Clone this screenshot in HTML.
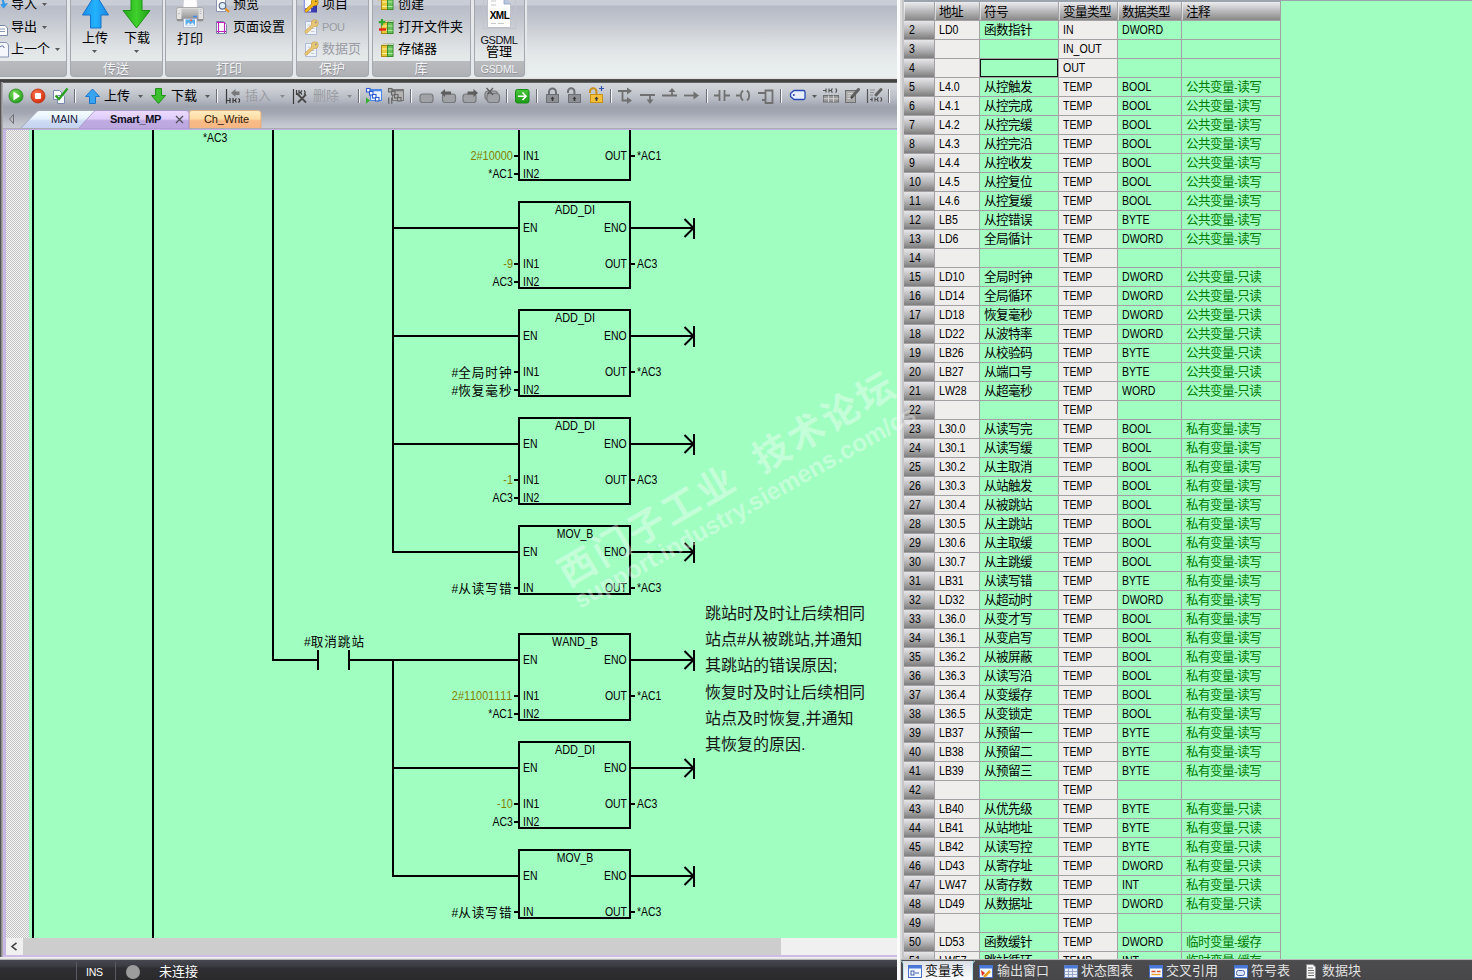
<!DOCTYPE html>
<html><head><meta charset="utf-8"><title>STEP 7-Micro/WIN SMART</title>
<style>
html,body{margin:0;padding:0}
body{width:1472px;height:980px;overflow:hidden;position:relative;background:#a0fec1;font-family:"Liberation Sans","Noto Sans CJK SC",sans-serif;font-size:11px;color:#000}
div{position:absolute;box-sizing:border-box}
.t{white-space:nowrap;font-kerning:none}
span.z{font-size:var(--c,1em);letter-spacing:0}
svg.a{position:absolute;overflow:visible}
.cm{font-size:16px;line-height:20px;color:#141414;--c:16px}
.cm .h{display:inline-block;width:8px;text-align:center}
.wm{white-space:nowrap;color:rgba(255,255,255,.38);transform-origin:0 100%;line-height:1;margin-top:-1em}
.ld span.z{letter-spacing:1px}
.tb span.z{letter-spacing:-.6px}

</style></head>
<body>
<div style="left:0px;top:0px;width:897px;height:79px;background:linear-gradient(#c9cdd5 0,#c9cdd5 5px,#b6bac6 6px,#c1c5ce 20px,#d2d6da 35px,#e0e4e6 50px,#e6ebeb 62px,#e9efef 77px,#e4e4e0 78px);"></div>
<div style="left:-12px;top:0px;width:81px;height:78px;background:#e6e9ec;border-radius:0 0 5px 5px;"></div>
<div style="left:-10px;top:0px;width:77px;height:77px;border:1px solid #a4a8ae;border-top:0;border-radius:0 0 4px 4px;overflow:hidden;background:linear-gradient(#c9cdd5 0,#c9cdd5 5px,#b9bdc8 6px,#c3c7cf 20px,#d3d7db 35px,#e0e4e6 50px,#e6eaea 61px,#b9bbbf 61px,#aeb0b4 77px);"></div>
<div style="left:68px;top:0px;width:97px;height:78px;background:#e6e9ec;border-radius:0 0 5px 5px;"></div>
<div style="left:70px;top:0px;width:93px;height:77px;border:1px solid #a4a8ae;border-top:0;border-radius:0 0 4px 4px;overflow:hidden;background:linear-gradient(#c9cdd5 0,#c9cdd5 5px,#b9bdc8 6px,#c3c7cf 20px,#d3d7db 35px,#e0e4e6 50px,#e6eaea 61px,#b9bbbf 61px,#aeb0b4 77px);"></div>
<div class="t" style="top:61.5px;font-size:12.5px;line-height:16px;color:#8e9095;letter-spacing:-.2px;--c:13px;left:-83.5px;width:400px;text-align:center;"><span class="z">传送</span></div>
<div class="t" style="top:60.5px;font-size:12.5px;line-height:16px;color:#f4f4f6;letter-spacing:-.2px;--c:13px;left:-84px;width:400px;text-align:center;"><span class="z">传送</span></div>
<div style="left:163px;top:0px;width:132px;height:78px;background:#e6e9ec;border-radius:0 0 5px 5px;"></div>
<div style="left:165px;top:0px;width:128px;height:77px;border:1px solid #a4a8ae;border-top:0;border-radius:0 0 4px 4px;overflow:hidden;background:linear-gradient(#c9cdd5 0,#c9cdd5 5px,#b9bdc8 6px,#c3c7cf 20px,#d3d7db 35px,#e0e4e6 50px,#e6eaea 61px,#b9bbbf 61px,#aeb0b4 77px);"></div>
<div class="t" style="top:61.5px;font-size:12.5px;line-height:16px;color:#8e9095;letter-spacing:-.2px;--c:13px;left:29.5px;width:400px;text-align:center;"><span class="z">打印</span></div>
<div class="t" style="top:60.5px;font-size:12.5px;line-height:16px;color:#f4f4f6;letter-spacing:-.2px;--c:13px;left:29px;width:400px;text-align:center;"><span class="z">打印</span></div>
<div style="left:294px;top:0px;width:77px;height:78px;background:#e6e9ec;border-radius:0 0 5px 5px;"></div>
<div style="left:296px;top:0px;width:73px;height:77px;border:1px solid #a4a8ae;border-top:0;border-radius:0 0 4px 4px;overflow:hidden;background:linear-gradient(#c9cdd5 0,#c9cdd5 5px,#b9bdc8 6px,#c3c7cf 20px,#d3d7db 35px,#e0e4e6 50px,#e6eaea 61px,#b9bbbf 61px,#aeb0b4 77px);"></div>
<div class="t" style="top:61.5px;font-size:12.5px;line-height:16px;color:#8e9095;letter-spacing:-.2px;--c:13px;left:132.5px;width:400px;text-align:center;"><span class="z">保护</span></div>
<div class="t" style="top:60.5px;font-size:12.5px;line-height:16px;color:#f4f4f6;letter-spacing:-.2px;--c:13px;left:132px;width:400px;text-align:center;"><span class="z">保护</span></div>
<div style="left:370px;top:0px;width:103px;height:78px;background:#e6e9ec;border-radius:0 0 5px 5px;"></div>
<div style="left:372px;top:0px;width:99px;height:77px;border:1px solid #a4a8ae;border-top:0;border-radius:0 0 4px 4px;overflow:hidden;background:linear-gradient(#c9cdd5 0,#c9cdd5 5px,#b9bdc8 6px,#c3c7cf 20px,#d3d7db 35px,#e0e4e6 50px,#e6eaea 61px,#b9bbbf 61px,#aeb0b4 77px);"></div>
<div class="t" style="top:61.5px;font-size:12.5px;line-height:16px;color:#8e9095;letter-spacing:-.2px;--c:13px;left:221.5px;width:400px;text-align:center;"><span class="z">库</span></div>
<div class="t" style="top:60.5px;font-size:12.5px;line-height:16px;color:#f4f4f6;letter-spacing:-.2px;--c:13px;left:221px;width:400px;text-align:center;"><span class="z">库</span></div>
<div style="left:472px;top:0px;width:55px;height:78px;background:#e6e9ec;border-radius:0 0 5px 5px;"></div>
<div style="left:474px;top:0px;width:51px;height:77px;border:1px solid #a4a8ae;border-top:0;border-radius:0 0 4px 4px;overflow:hidden;background:linear-gradient(#c9cdd5 0,#c9cdd5 5px,#b9bdc8 6px,#c3c7cf 20px,#d3d7db 35px,#e0e4e6 50px,#e6eaea 61px,#b9bbbf 61px,#aeb0b4 77px);"></div>
<div class="t" style="top:61.5px;font-size:10.5px;line-height:16px;color:#8e9095;letter-spacing:-.2px;--c:13px;left:299.5px;width:400px;text-align:center;">GSDML</div>
<div class="t" style="top:60.5px;font-size:10.5px;line-height:16px;color:#f4f4f6;letter-spacing:-.2px;--c:13px;left:299px;width:400px;text-align:center;">GSDML</div>
<div class="t" style="top:-3.7px;font-size:11px;line-height:16px;color:#000;letter-spacing:-.4px;--c:13px;left:11px;"><span class="z">导入</span></div>
<svg class="a" style="left:42px;top:3px" width="5" height="3"><path d="M0 0H5L2.5 3Z" fill="#5a5a5a"/></svg>
<div class="t" style="top:18.8px;font-size:11px;line-height:16px;color:#000;letter-spacing:-.4px;--c:13px;left:11px;"><span class="z">导出</span></div>
<svg class="a" style="left:42px;top:25.5px" width="5" height="3"><path d="M0 0H5L2.5 3Z" fill="#5a5a5a"/></svg>
<div class="t" style="top:40.6px;font-size:11px;line-height:16px;color:#000;letter-spacing:-.4px;--c:13px;left:11px;"><span class="z">上一个</span></div>
<svg class="a" style="left:55px;top:47.5px" width="5" height="3"><path d="M0 0H5L2.5 3Z" fill="#5a5a5a"/></svg>
<svg class="a" style="left:0;top:0" width="10" height="60"><path d="M2.500 -1Q4.500 1 4.500 4L7.500 3.500L3.500 8.200L.800 4.500L2.800 4.500Q2.800 1.500 1.500 -1Z" fill="#2e9ff2" stroke="#1f86dc" stroke-width=".5"/><path d="M-2 25.5h7l2.500 2.500v7.500h-9.500z" fill="#fff" stroke="#7a8aa8"/><path d="M0 29h5M0 31.500h5" stroke="#8a9ab8"/><path d="M-3 42.500h9.500l2 2.500v12h-11.500z" fill="#f4f6fc" stroke="#8a96b4"/><path d="M0 47c2-2 4-1 4 1" stroke="#50609a" fill="none"/></svg>
<svg class="a" style="left:80px;top:0" width="76" height="30">
<defs><linearGradient id="gb" x1="0" y1="0" x2="1" y2="0"><stop offset="0" stop-color="#1c8fe8"/><stop offset=".5" stop-color="#22b2ff"/><stop offset="1" stop-color="#1a86e0"/></linearGradient>
<linearGradient id="gg" x1="0" y1="0" x2="1" y2="0"><stop offset="0" stop-color="#25a81c"/><stop offset=".5" stop-color="#3fd12c"/><stop offset="1" stop-color="#1f9c18"/></linearGradient></defs>
<path d="M15.500 -6L28.500 15H21V28H10.500V15H2.500Z" fill="url(#gb)" stroke="#1672cc" stroke-width="1"/>
<path d="M51 -8H62V10.500H70L56.500 28L43 10.500H51Z" fill="url(#gg)" stroke="#1d9416" stroke-width="1"/>
</svg>
<div class="t" style="top:30.3px;font-size:11px;line-height:16px;color:#000;letter-spacing:-.4px;--c:13px;left:82px;"><span class="z">上传</span></div>
<svg class="a" style="left:92px;top:50px" width="5" height="3"><path d="M0 0H5L2.5 3Z" fill="#5a5a5a"/></svg>
<div class="t" style="top:30.3px;font-size:11px;line-height:16px;color:#000;letter-spacing:-.4px;--c:13px;left:124px;"><span class="z">下载</span></div>
<svg class="a" style="left:134px;top:50px" width="5" height="3"><path d="M0 0H5L2.5 3Z" fill="#5a5a5a"/></svg>
<svg class="a" style="left:174px;top:0" width="34" height="30">
<defs><linearGradient id="gp" x1="0" y1="0" x2="0" y2="1"><stop offset="0" stop-color="#cfcfcf"/><stop offset=".75" stop-color="#a4a4a4"/><stop offset="1" stop-color="#8a8a8a"/></linearGradient></defs>
<path d="M9.500 -4H23L23.500 8H9Z" fill="#fdfdfd" stroke="#c4c6cc" stroke-width=".8"/>
<rect x="2.500" y="7.500" width="27" height="13.500" rx="2" fill="#e4e4e4" stroke="#a0a0a0" stroke-width=".8"/>
<rect x="7.500" y="8.500" width="17" height="10.500" fill="url(#gp)"/>
<rect x="3" y="19" width="26" height="2" fill="#909090"/>
<path d="M4 13.500h2M25.500 9.500h2M25.500 11.500h2M25.500 13.500h2" stroke="#b4b4b4" stroke-width=".8"/>
<rect x="19" y="15.800" width="4" height="1.400" fill="#3a8af0"/>
<rect x="9.500" y="18.800" width="13.500" height="8.500" fill="#fbfcff" stroke="#a8b0c8" stroke-width=".8"/>
<rect x="11.500" y="19.500" width="9.500" height="6" fill="#5cace8"/><path d="M11.500 25.500l3-3 2 2 2-2 2.500 3z" fill="#e4eefa"/><circle cx="17" cy="20.300" r="1" fill="#f06040"/>
</svg>
<div class="t" style="top:30.5px;font-size:11px;line-height:16px;color:#000;letter-spacing:-.4px;--c:13px;left:177px;"><span class="z">打印</span></div>
<svg class="a" style="left:215px;top:0" width="16" height="14"><path d="M1.500 -3H10.500V11.500H1.500Z" fill="#fff" stroke="#8a94b0"/><circle cx="7.500" cy="5.800" r="3.300" fill="#dfeefa" stroke="#5a6a8a" stroke-width="1.200"/><path d="M10.200 8.500L14 12" stroke="#e89020" stroke-width="2.300"/></svg>
<div class="t" style="top:-3.7px;font-size:11px;line-height:16px;color:#000;letter-spacing:-.4px;--c:13px;left:233px;"><span class="z">预览</span></div>
<svg class="a" style="left:215px;top:20px" width="14" height="15"><path d="M1.500 1.500H8.500L11.500 4.500V13.500H1.500Z" fill="#fff" stroke="#7a84a8"/><path d="M3.500 1.500V13M9.500 2V13M1.500 2.500H9.500M1.500 11.500H11" stroke="#c020c0" stroke-width="1.100"/></svg>
<div class="t" style="top:18.6px;font-size:11px;line-height:16px;color:#000;letter-spacing:-.4px;--c:13px;left:233px;"><span class="z">页面设置</span></div>
<svg class="a" style="left:303px;top:0" width="16" height="14"><defs><linearGradient id="gk" x1="0" y1="0" x2="1" y2="0"><stop offset="0" stop-color="#a8a8f4"/><stop offset=".35" stop-color="#4a4ac0"/><stop offset="1" stop-color="#3434a8"/></linearGradient></defs><rect x=".500" y="-6" width="13.500" height="18.500" fill="url(#gk)"/><rect x="2" y="-4" width="7.500" height="12" fill="#fff"/><rect x="5" y="9" width="3" height="2.500" fill="#e8e8f8"/></svg>
<svg class="a" style="left:303.5px;top:-2px" width="16" height="18"><path d="M9.300 6.200L2.300 12.800" stroke="#a87010" stroke-width="3.400" stroke-linecap="round"/><circle cx="10.750" cy="4.300" r="3.700" fill="#a87010"/><path d="M9.300 6.200L2.300 12.800" stroke="#f2b81c" stroke-width="2.300" stroke-linecap="round"/><circle cx="10.750" cy="4.300" r="3.100" fill="#f2b81c"/><circle cx="11.800" cy="3.300" r=".9" fill="#6a5a30"/></svg>
<div class="t" style="top:-3.7px;font-size:11px;line-height:16px;color:#000;letter-spacing:-.4px;--c:13px;left:322px;"><span class="z">项目</span></div>
<svg class="a" style="left:304px;top:19px" width="16" height="18"><path d="M1.500 2.500H12.500V15.500H1.500Z" fill="#f0f4fa" stroke="#a8b6d2" stroke-width=".9"/><path d="M3.500 6h3M7 9.500h3.500M7 12.500h3.500" stroke="#c2cada"/><path d="M9.300 6.200L2.300 12.800" stroke="#c8a458" stroke-width="3.400" stroke-linecap="round"/><circle cx="10.750" cy="4.300" r="3.700" fill="#c8a458"/><path d="M9.300 6.200L2.300 12.800" stroke="#e6c674" stroke-width="2.300" stroke-linecap="round"/><circle cx="10.750" cy="4.300" r="3.100" fill="#e6c674"/><circle cx="11.800" cy="3.300" r=".9" fill="#8a8a90"/></svg>
<div class="t" style="top:18.8px;font-size:11px;line-height:16px;color:#9a9ca4;letter-spacing:-.4px;--c:13px;left:322px;">POU</div>
<svg class="a" style="left:304px;top:41px" width="16" height="18"><path d="M1.500 2.500H12.500V15.500H1.500Z" fill="#f0f4fa" stroke="#a8b6d2" stroke-width=".9"/><path d="M3.500 6h3M7 9.500h3.500M7 12.500h3.500" stroke="#c2cada"/><path d="M9.300 6.200L2.300 12.800" stroke="#c8a458" stroke-width="3.400" stroke-linecap="round"/><circle cx="10.750" cy="4.300" r="3.700" fill="#c8a458"/><path d="M9.300 6.200L2.300 12.800" stroke="#e6c674" stroke-width="2.300" stroke-linecap="round"/><circle cx="10.750" cy="4.300" r="3.100" fill="#e6c674"/><circle cx="11.800" cy="3.300" r=".9" fill="#8a8a90"/></svg>
<div class="t" style="top:40.8px;font-size:11px;line-height:16px;color:#9a9ca4;letter-spacing:-.4px;--c:13px;left:322px;"><span class="z">数据页</span></div>
<svg class="a" style="left:377px;top:-6px" width="20" height="18"><path d="M4.500 4.500l2-1.500h5l-1 1.500z" fill="#f4f4e8" stroke="#a89848" stroke-width=".6"/><path d="M10.500 4.500l2-1.500h4.500l-1 1.500z" fill="#f4f4e8" stroke="#58a048" stroke-width=".6"/><rect x="4.500" y="4.500" width="6" height="11" fill="#e8c838" stroke="#a88818"/><rect x="10.500" y="4.500" width="5.500" height="11" fill="#68c058" stroke="#3a8a30"/><path d="M5 8h5M5 12.500h5" stroke="#fff2a0"/><path d="M11 8h4.500M11 12.500h4.500" stroke="#b0f0a0"/><path d="M4 0l1 2.500 2.500 0-2 1.500 1 2.500-2.500-1.500-2.500 1.500 1-2.500-2-1.500 2.500 0z" fill="#ffe040" stroke="#e0a010" stroke-width=".5"/></svg>
<div class="t" style="top:-3.7px;font-size:11px;line-height:16px;color:#000;letter-spacing:-.4px;--c:13px;left:398px;"><span class="z">创建</span></div>
<svg class="a" style="left:377px;top:18px" width="20" height="18"><path d="M4.500 4.500l2-1.500h5l-1 1.500z" fill="#f4f4e8" stroke="#a89848" stroke-width=".6"/><path d="M10.500 4.500l2-1.500h4.500l-1 1.500z" fill="#f4f4e8" stroke="#58a048" stroke-width=".6"/><rect x="4.500" y="4.500" width="6" height="11" fill="#e8c838" stroke="#a88818"/><rect x="10.500" y="4.500" width="5.500" height="11" fill="#68c058" stroke="#3a8a30"/><path d="M5 8h5M5 12.500h5" stroke="#fff2a0"/><path d="M11 8h4.500M11 12.500h4.500" stroke="#b0f0a0"/><path d="M5 1v6.500M1.800 4.200h6.500" stroke="#30a830" stroke-width="2.200"/><path d="M2 11.500h7" stroke="#e82010" stroke-width="2.400"/></svg>
<div class="t" style="top:18.8px;font-size:11px;line-height:16px;color:#000;letter-spacing:-.4px;--c:13px;left:398px;"><span class="z">打开文件夹</span></div>
<svg class="a" style="left:377px;top:40.5px" width="20" height="18"><path d="M4.500 4.500l2-1.500h5l-1 1.500z" fill="#f4f4e8" stroke="#a89848" stroke-width=".6"/><path d="M10.500 4.500l2-1.500h4.500l-1 1.500z" fill="#f4f4e8" stroke="#58a048" stroke-width=".6"/><rect x="4.500" y="4.500" width="6" height="11" fill="#e8c838" stroke="#a88818"/><rect x="10.500" y="4.500" width="5.500" height="11" fill="#68c058" stroke="#3a8a30"/><path d="M5 8h5M5 12.500h5" stroke="#fff2a0"/><path d="M11 8h4.500M11 12.500h4.500" stroke="#b0f0a0"/></svg>
<div class="t" style="top:40.8px;font-size:11px;line-height:16px;color:#000;letter-spacing:-.4px;--c:13px;left:398px;"><span class="z">存储器</span></div>
<svg class="a" style="left:483px;top:0" width="34" height="30"><path d="M0.500 -2V28.500H32.500V-2" fill="none" stroke="#c4c4cc"/><path d="M4.500 -4H21L27.500 4V27.500H4.500Z" fill="#fdfdfd" stroke="#c0c0c8"/><path d="M21 -4V4H27.500" fill="#b8c8e0" stroke="#8898b8" stroke-width=".7"/><path d="M8 1h5M8 5h5M8 23.500h5M15 23.500h6" stroke="#c8c8c8" stroke-width="1.200"/></svg>
<div class="t" style="top:9px;font-size:10px;line-height:14px;color:#000;font-weight:bold;letter-spacing:-.5px;left:299.5px;width:400px;text-align:center;">XML</div>
<div class="t" style="top:32.5px;font-size:11px;line-height:14px;color:#101018;letter-spacing:-.4px;left:299px;width:400px;text-align:center;">GSDML</div>
<div class="t" style="top:44.5px;font-size:12px;line-height:14px;color:#000;--c:13px;left:299px;width:400px;text-align:center;"><span class="z">管理</span></div>
<div style="left:0px;top:79px;width:897px;height:4px;background:linear-gradient(#555 0,#3c3c3c 2px,#4a4a4a 3px,#7c7e84 4px);"></div>
<div style="left:0px;top:83px;width:897px;height:47px;background:linear-gradient(#d3d6db 0,#ccd0d5 6px,#b4b8c1 17px,#9ea2ae 24px,#a3a7b2 30px,#bfc3cb 40px,#caced5 46px,#c6bcdc 46px,#c6bcdc 47px);"></div>
<div style="left:0px;top:82px;width:3px;height:878px;background:linear-gradient(90deg,#555 0,#555 1px,#8e8e8e 1px,#8e8e8e 2px,#ababab 2px);"></div>
<svg class="a" style="left:8px;top:88px" width="16" height="16"><defs><radialGradient id="rg1" cx=".4" cy=".35" r=".7"><stop offset="0" stop-color="#7be05a"/><stop offset="1" stop-color="#1f9a1a"/></radialGradient><radialGradient id="rg2" cx=".4" cy=".35" r=".7"><stop offset="0" stop-color="#ff7a50"/><stop offset="1" stop-color="#d02808"/></radialGradient></defs><circle cx="8" cy="8" r="7" fill="url(#rg1)" stroke="#2a8a22" stroke-width=".8"/><path d="M5.500 3.500L12 8L5.500 12.500Z" fill="#fff"/></svg>
<svg class="a" style="left:30px;top:88px" width="16" height="16"><circle cx="8" cy="8" r="7" fill="url(#rg2)" stroke="#b83010" stroke-width=".8"/><rect x="5" y="5" width="6" height="6" rx="1" fill="#fff"/></svg>
<svg class="a" style="left:51px;top:86px" width="18" height="20"><path d="M2.500 4.500H8.500L10.500 6.500V13.500H2.500Z" fill="#fff" stroke="#7a88b0"/><path d="M6.500 9.500H12.500L13.500 10.500V17.500H6.500Z" fill="#f4f8ff" stroke="#7a88b0"/><path d="M4.500 9.500L8 13L16.500 2.500" fill="none" stroke="#28a020" stroke-width="2.200"/></svg>
<div style="left:74px;top:89px;width:1px;height:14px;background:#6e7078;"></div>
<div style="left:75px;top:89px;width:1px;height:14px;background:#f4f6f8;"></div>
<svg class="a" style="left:85px;top:88px" width="16" height="17"><path d="M7.500 1L14.500 8.500H10.500V15.500H4.500V8.500H.500Z" fill="#38a4f0" stroke="#1a78d0"/></svg>
<div class="t" style="top:88.3px;font-size:12.5px;line-height:16px;color:#000;--c:13px;left:104px;"><span class="z">上传</span></div>
<svg class="a" style="left:138px;top:95px" width="5" height="3"><path d="M0 0H5L2.5 3Z" fill="#5a5a5a"/></svg>
<svg class="a" style="left:151px;top:88px" width="16" height="17"><path d="M4.500 .500H10.500V7.500H14.500L7.500 15.500L.500 7.500H4.500Z" fill="#3cc030" stroke="#209018"/></svg>
<div class="t" style="top:88.3px;font-size:12.5px;line-height:16px;color:#000;--c:13px;left:171px;"><span class="z">下载</span></div>
<svg class="a" style="left:205px;top:95px" width="5" height="3"><path d="M0 0H5L2.5 3Z" fill="#5a5a5a"/></svg>
<div style="left:216px;top:89px;width:1px;height:14px;background:#6e7078;"></div>
<div style="left:217px;top:89px;width:1px;height:14px;background:#f4f6f8;"></div>
<svg class="a" style="left:225px;top:88px" width="18" height="16"><path d="M1.500 1V15.500M1.500 12.500H5M5 10V15M8 10V15M8 12.500H10M11.500 10.500c-1.500 1-1.500 3 0 4M13.500 10.500c1.500 1 1.500 3 0 4" stroke="#3a3a3a" fill="none" stroke-width="1.200"/><path d="M6 5L10.500 1V3.500H14.500V7H10.500V9Z" fill="#787878"/></svg>
<div class="t" style="top:88px;font-size:12.5px;line-height:16px;color:#9a9ca2;--c:13px;left:245px;"><span class="z">插入</span></div>
<svg class="a" style="left:280px;top:95px" width="5" height="3"><path d="M0 0H5L2.5 3Z" fill="#8a8a8e"/></svg>
<svg class="a" style="left:292px;top:88px" width="18" height="17"><path d="M1.500 1V16M4.500 2V7M7 2V7M7 4.500H9M10 2.500c-1.500 1-1.500 3 0 4M12 2.500c1.500 1 1.500 3 0 4" stroke="#3a3a3a" fill="none" stroke-width="1.200"/><path d="M5 5.500L14 14.500M14 6.500L6 14.500" stroke="#4a4a4a" stroke-width="1.800"/></svg>
<div class="t" style="top:88px;font-size:12.5px;line-height:16px;color:#9a9ca2;--c:13px;left:313px;"><span class="z">删除</span></div>
<svg class="a" style="left:347px;top:95px" width="5" height="3"><path d="M0 0H5L2.5 3Z" fill="#8a8a8e"/></svg>
<div style="left:358px;top:89px;width:1px;height:14px;background:#6e7078;"></div>
<div style="left:359px;top:89px;width:1px;height:14px;background:#f4f6f8;"></div>
<svg class="a" style="left:365px;top:88px" width="18" height="17"><rect x="5.500" y="1.500" width="11" height="11" fill="#e8f0ff" stroke="#4a86e8"/><rect x="5.500" y="1.500" width="11" height="1.800" fill="#4a86e8"/><rect x="1.5" y="0.5" width="3.500" height="3.500" fill="#fff" stroke="#2a5ad0" stroke-width="1.100"/><rect x="4.5" y="3.5" width="3.500" height="3.500" fill="#fff" stroke="#2a5ad0" stroke-width="1.100"/><rect x="7.5" y="6.5" width="3.500" height="3.500" fill="#fff" stroke="#2a5ad0" stroke-width="1.100"/><rect x="10.5" y="9.5" width="3.500" height="3.500" fill="#fff" stroke="#2a5ad0" stroke-width="1.100"/><path d="M1 9.500L5 12.600L1 15.750Z" fill="#30b030"/></svg>
<svg class="a" style="left:387px;top:88px" width="18" height="17"><rect x="5.500" y="1.500" width="11" height="11" fill="#b4b4b4" stroke="#777"/><rect x="5.500" y="1.500" width="11" height="1.800" fill="#777"/><rect x="1.5" y="0.5" width="3.500" height="3.500" fill="#b0b0b0" stroke="#666" stroke-width="1.100"/><rect x="4.5" y="3.5" width="3.500" height="3.500" fill="#b0b0b0" stroke="#666" stroke-width="1.100"/><rect x="7.5" y="6.5" width="3.500" height="3.500" fill="#b0b0b0" stroke="#666" stroke-width="1.100"/><rect x="10.5" y="9.5" width="3.500" height="3.500" fill="#b0b0b0" stroke="#666" stroke-width="1.100"/><path d="M1.700 9.500V15.750M4.700 9.500V15.750" stroke="#6e6e6e" stroke-width="1.400"/></svg>
<div style="left:410px;top:89px;width:1px;height:14px;background:#6e7078;"></div>
<div style="left:411px;top:89px;width:1px;height:14px;background:#f4f6f8;"></div>
<svg class="a" style="left:418.5px;top:92px" width="16" height="12"><rect x="1" y="2" width="13" height="8.500" rx="2.500" fill="#a0a2a6" stroke="#77797d" stroke-width="1.200"/></svg>
<svg class="a" style="left:438.5px;top:88px" width="18" height="17"><rect x="3.500" y="6" width="13" height="8.500" rx="2.500" fill="#a0a2a6" stroke="#77797d" stroke-width="1.200"/><path d="M1.500 5L6 1V3.500H12V6.500H6V9Z" fill="#5e5e5e"/></svg>
<svg class="a" style="left:461.5px;top:88px" width="18" height="17"><rect x="1" y="6" width="13" height="8.500" rx="2.500" fill="#a0a2a6" stroke="#77797d" stroke-width="1.200"/><path d="M16 5L11.500 1V3.500H5.500V6.500H11.500V9Z" fill="#5e5e5e"/></svg>
<svg class="a" style="left:484px;top:87px" width="18" height="18"><rect x="1" y="4" width="12.500" height="9" rx="3" fill="#a0a2a6" stroke="#77797d" stroke-width="1.200"/><rect x="3" y="6.500" width="12.500" height="9" rx="3" fill="#a0a2a6" stroke="#77797d" stroke-width="1.200"/><path d="M2.500 1L9 8M9 1L3.500 7" stroke="#5a5a5a" stroke-width="1.200"/></svg>
<div style="left:506px;top:89px;width:1px;height:14px;background:#6e7078;"></div>
<div style="left:507px;top:89px;width:1px;height:14px;background:#f4f6f8;"></div>
<svg class="a" style="left:515px;top:89px" width="15" height="15"><defs><linearGradient id="gn" x1="0" y1="0" x2="0" y2="1"><stop offset="0" stop-color="#48c838"/><stop offset="1" stop-color="#1c9a18"/></linearGradient></defs><rect x=".500" y=".500" width="13.500" height="13.500" rx="2" fill="url(#gn)" stroke="#1a8a18"/><path d="M3 7.200H10.500M7.500 3.500L11 7.200L7.500 11" stroke="#fff" stroke-width="1.600" fill="none"/></svg>
<div style="left:536px;top:89px;width:1px;height:14px;background:#6e7078;"></div>
<div style="left:537px;top:89px;width:1px;height:14px;background:#f4f6f8;"></div>
<svg class="a" style="left:545px;top:86px" width="18" height="18"><path d="M4 9V6a3.500 3.500 0 0 1 7 0V9" fill="none" stroke="#6e7076" stroke-width="2"/><rect x="1.500" y="8.500" width="12" height="8" fill="#8e9096" stroke="#6e7076"/><path d="M7.500 10.500L9.500 13H8.300V15H6.700V13H5.500Z" fill="#3a3a3a"/></svg>
<svg class="a" style="left:567px;top:86px" width="18" height="18"><path d="M1 7V5.500a3.200 3.200 0 0 1 6.400 0V9" fill="none" stroke="#6e7076" stroke-width="2"/><rect x="1.500" y="8.500" width="12" height="8" fill="#8e9096" stroke="#6e7076"/><path d="M7.500 10.500L9.500 13H8.300V15H6.700V13H5.500Z" fill="#3a3a3a"/></svg>
<svg class="a" style="left:589px;top:86px" width="18" height="18"><path d="M1 7V5.500a3.200 3.200 0 0 1 6.400 0V9" fill="none" stroke="#c89018" stroke-width="2"/><rect x="1.500" y="8.500" width="12" height="8" fill="#f4c038" stroke="#c89018"/><path d="M7.500 10.500L9.500 13H8.300V15H6.700V13H5.500Z" fill="#3a3a3a"/><path d="M12.500 0V5M10 2.500H15" stroke="#3050b0" stroke-width="1.200"/></svg>
<div style="left:610px;top:89px;width:1px;height:14px;background:#6e7078;"></div>
<div style="left:611px;top:89px;width:1px;height:14px;background:#f4f6f8;"></div>
<svg class="a" style="left:617px;top:87px" width="18" height="18"><path d="M1 4H10M5.500 4V13.500H10" stroke="#707070" stroke-width="1.800" fill="none"/><path d="M10 .500L15 4L10 7.500ZM10 10L15 13.500L10 17Z" fill="#707070"/></svg>
<svg class="a" style="left:639px;top:87px" width="18" height="18"><path d="M1 8H16M11 8V13" stroke="#707070" stroke-width="1.800" fill="none"/><path d="M7.500 12.500H14.500L11 17Z" fill="#707070"/></svg>
<svg class="a" style="left:661px;top:87px" width="18" height="18"><path d="M1 8.500H16M11 8.500V4" stroke="#707070" stroke-width="1.800" fill="none"/><path d="M7.500 5H14.500L11 1Z" fill="#707070"/></svg>
<svg class="a" style="left:683px;top:87px" width="18" height="18"><path d="M1 8.500H11" stroke="#707070" stroke-width="1.800" fill="none"/><path d="M10.500 4.500L16 8.500L10.500 12.500Z" fill="#707070"/></svg>
<div style="left:706px;top:89px;width:1px;height:14px;background:#6e7078;"></div>
<div style="left:707px;top:89px;width:1px;height:14px;background:#f4f6f8;"></div>
<svg class="a" style="left:713px;top:87px" width="18" height="18"><path d="M1 8.500H6.500M11.500 8.500H17M6.500 3V14M11.500 3V14" stroke="#707070" stroke-width="1.800" fill="none"/></svg>
<svg class="a" style="left:735px;top:87px" width="18" height="18"><path d="M1 8.500H5M8 3.500c-3 2.500-3 7.500 0 10M12 3.500c3 2.500 3 7.500 0 10" stroke="#707070" stroke-width="1.800" fill="none"/></svg>
<svg class="a" style="left:757px;top:87px" width="18" height="18"><path d="M1 6H8M5 13H8M8.500 3.500H15.500V16H8.500Z" stroke="#707070" stroke-width="1.800" fill="none"/></svg>
<div style="left:780px;top:89px;width:1px;height:14px;background:#6e7078;"></div>
<div style="left:781px;top:89px;width:1px;height:14px;background:#f4f6f8;"></div>
<svg class="a" style="left:789px;top:89px" width="18" height="14"><path d="M5 1.500H14.500a1.500 1.500 0 0 1 1.500 1.500V9a1.500 1.500 0 0 1 -1.500 1.500H5L1.500 7.500V4.500Z" fill="#e6eeff" stroke="#2848b0" stroke-width="1.300"/><circle cx="4.800" cy="6" r="1" fill="#2040a0"/></svg>
<svg class="a" style="left:812px;top:95px" width="5" height="3"><path d="M0 0H5L2.5 3Z" fill="#5a5a5a"/></svg>
<svg class="a" style="left:822px;top:87px" width="18" height="18"><path d="M1 3.500H4M4 1.500V5.500M7 1.500V5.500M7 3.500H9M10.500 1.500c-1.500 1-1.500 3 0 4M13.500 1.500c1.500 1 1.500 3 0 4" stroke="#555" fill="none" stroke-width="1.200"/><rect x="1.500" y="8.500" width="15" height="6.500" fill="#9a9a9a" stroke="#707070"/><path d="M1.500 11.700H16.500M6.500 8.500V15M11.500 8.500V15" stroke="#d0d0d0"/></svg>
<svg class="a" style="left:844px;top:86px" width="18" height="20"><rect x="1.500" y="4.500" width="10" height="12" fill="#a8a8a8" stroke="#707070"/><path d="M3.500 7.500h6M3.500 10h6M3.500 12.500h6" stroke="#d8d8d8"/><path d="M8 11L14.500 3.500" stroke="#606060" stroke-width="3" stroke-linecap="round"/><path d="M7 12.500L8.500 10.500" stroke="#404040" stroke-width="1.500"/></svg>
<svg class="a" style="left:866px;top:86px" width="18" height="20"><path d="M1.500 3V17M4 13.500H6M6 11.500V15.500M9 11.500V15.500M9 13.500H11M12.500 11.500c-1.500 1-1.500 3 0 4M14.500 11.500c1.500 1 1.500 3 0 4" stroke="#555" fill="none" stroke-width="1.200"/><path d="M4 4h5M4 6.500h4M4 9h3" stroke="#909090"/><path d="M10 9L15 3.500" stroke="#606060" stroke-width="3" stroke-linecap="round"/></svg>
<div style="left:888px;top:89px;width:1px;height:14px;background:#6e7078;"></div>
<div style="left:889px;top:89px;width:1px;height:14px;background:#f4f6f8;"></div>
<svg class="a" style="left:0;top:108px" width="300" height="22">
<defs>
<linearGradient id="tm" x1="0" y1="0" x2="0" y2="1"><stop offset="0" stop-color="#f6ffff"/><stop offset=".45" stop-color="#e4f0fc"/><stop offset=".55" stop-color="#cfdcf4"/><stop offset="1" stop-color="#c4d2f0"/></linearGradient>
<linearGradient id="ts" x1="0" y1="0" x2="0" y2="1"><stop offset="0" stop-color="#ecdcff"/><stop offset=".45" stop-color="#e0ccfa"/><stop offset=".55" stop-color="#c0aae2"/><stop offset="1" stop-color="#bba6de"/></linearGradient>
<linearGradient id="tc" x1="0" y1="0" x2="0" y2="1"><stop offset="0" stop-color="#ffecc0"/><stop offset=".45" stop-color="#ffdca4"/><stop offset=".55" stop-color="#f8bc88"/><stop offset="1" stop-color="#f6b684"/></linearGradient>
</defs>
<path d="M9.500 6.500V15.500L13.500 11Z" transform="translate(23,0) scale(-1,1) translate(0,0)" fill="none" stroke="#707070" stroke-width="1"/>
<path d="M20 21L37 3.500Q38 2.500 40 2.500H96V21Z" fill="url(#tm)" stroke="#9aa0b0" stroke-width=".8"/>
<path d="M189 21V5.500Q189 2.500 192 2.500H258Q261 2.500 261 5.500V21Z" fill="url(#tc)" stroke="#e0a878" stroke-width=".8"/>
<path d="M78 21L94 3.500Q95 2.500 97 2.500H186Q189 2.500 189 5.500V21Z" fill="url(#ts)" stroke="#a090c8" stroke-width=".8"/>
<path d="M176 8L183 15M183 8L176 15" stroke="#505058" stroke-width="1.300"/>
</svg>
<div class="t" style="top:111.5px;font-size:11px;line-height:14px;color:#181838;letter-spacing:-.2px;left:51px;">MAIN</div>
<div class="t" style="top:111.5px;font-size:11px;line-height:14px;color:#101020;font-weight:bold;letter-spacing:-.35px;left:110px;">Smart_MP</div>
<div class="t" style="top:111.5px;font-size:11px;line-height:14px;color:#301808;letter-spacing:-.1px;left:204px;">Ch_Write</div>
<div style="left:3px;top:128px;width:76px;height:1px;background:#a9abb1;"></div>
<div style="left:189px;top:128px;width:708px;height:1px;background:#a9abb1;"></div>
<div style="left:3px;top:129px;width:894px;height:1px;background:#c2b0e4;"></div>
<div style="left:3px;top:130px;width:3px;height:826px;background:#c6b6e2;"></div>
<div style="left:6px;top:130px;width:23px;height:808px;background:repeating-conic-gradient(#f6f6f6 0 25%,#c2c2c2 0 50%) 0 0/2px 2px;"></div>
<div style="left:29px;top:130px;width:868px;height:808px;background:#a0fec1;"></div>
<div class="t" style="top:148.5px;font-size:12.3px;line-height:14px;color:#000;transform:scaleX(0.85);transform-origin:0 50%;left:522.5px;">IN1</div>
<div class="t" style="top:148.5px;font-size:12.3px;line-height:14px;color:#808000;transform:scaleX(0.885);transform-origin:100% 50%;right:959.5px;text-align:right;">2#10000</div>
<div class="t" style="top:166.5px;font-size:12.3px;line-height:14px;color:#000;transform:scaleX(0.85);transform-origin:0 50%;left:522.5px;">IN2</div>
<div class="t" style="top:166.5px;font-size:12.3px;line-height:14px;color:#000;transform:scaleX(0.85);transform-origin:100% 50%;right:959.5px;text-align:right;">*AC1</div>
<div class="t" style="top:148.5px;font-size:12.3px;line-height:14px;color:#000;transform:scaleX(0.85);transform-origin:100% 50%;right:845px;text-align:right;">OUT</div>
<div class="t" style="top:148.5px;font-size:12.3px;line-height:14px;color:#000;transform:scaleX(0.85);transform-origin:0 50%;left:637px;">*AC1</div>
<div class="t" style="top:202.5px;font-size:12.3px;line-height:14px;color:#000;transform:scaleX(0.89);transform-origin:50% 50%;left:374.5px;width:400px;text-align:center;">ADD_DI</div>
<div class="t" style="top:220.5px;font-size:12.3px;line-height:14px;color:#000;transform:scaleX(0.85);transform-origin:0 50%;left:522.5px;">EN</div>
<div class="t" style="top:220.5px;font-size:12.3px;line-height:14px;color:#000;transform:scaleX(0.85);transform-origin:100% 50%;right:845px;text-align:right;">ENO</div>
<div class="t" style="top:256.5px;font-size:12.3px;line-height:14px;color:#000;transform:scaleX(0.85);transform-origin:0 50%;left:522.5px;">IN1</div>
<div class="t" style="top:256.5px;font-size:12.3px;line-height:14px;color:#808000;transform:scaleX(0.885);transform-origin:100% 50%;right:959.5px;text-align:right;">-9</div>
<div class="t" style="top:274.5px;font-size:12.3px;line-height:14px;color:#000;transform:scaleX(0.85);transform-origin:0 50%;left:522.5px;">IN2</div>
<div class="t" style="top:274.5px;font-size:12.3px;line-height:14px;color:#000;transform:scaleX(0.85);transform-origin:100% 50%;right:959.5px;text-align:right;">AC3</div>
<div class="t" style="top:256.5px;font-size:12.3px;line-height:14px;color:#000;transform:scaleX(0.85);transform-origin:100% 50%;right:845px;text-align:right;">OUT</div>
<div class="t" style="top:256.5px;font-size:12.3px;line-height:14px;color:#000;transform:scaleX(0.85);transform-origin:0 50%;left:637px;">AC3</div>
<div class="t" style="top:310.5px;font-size:12.3px;line-height:14px;color:#000;transform:scaleX(0.89);transform-origin:50% 50%;left:374.5px;width:400px;text-align:center;">ADD_DI</div>
<div class="t" style="top:328.5px;font-size:12.3px;line-height:14px;color:#000;transform:scaleX(0.85);transform-origin:0 50%;left:522.5px;">EN</div>
<div class="t" style="top:328.5px;font-size:12.3px;line-height:14px;color:#000;transform:scaleX(0.85);transform-origin:100% 50%;right:845px;text-align:right;">ENO</div>
<div class="t" style="top:364.5px;font-size:12.3px;line-height:14px;color:#000;transform:scaleX(0.85);transform-origin:0 50%;left:522.5px;">IN1</div>
<div class="t ld" style="top:365.6px;font-size:12px;line-height:14px;color:#000;letter-spacing:0;--c:12.6px;right:959.5px;text-align:right;">#<span class="z">全局时钟</span></div>
<div class="t" style="top:382.5px;font-size:12.3px;line-height:14px;color:#000;transform:scaleX(0.85);transform-origin:0 50%;left:522.5px;">IN2</div>
<div class="t ld" style="top:383.6px;font-size:12px;line-height:14px;color:#000;letter-spacing:0;--c:12.6px;right:959.5px;text-align:right;">#<span class="z">恢复毫秒</span></div>
<div class="t" style="top:364.5px;font-size:12.3px;line-height:14px;color:#000;transform:scaleX(0.85);transform-origin:100% 50%;right:845px;text-align:right;">OUT</div>
<div class="t" style="top:364.5px;font-size:12.3px;line-height:14px;color:#000;transform:scaleX(0.85);transform-origin:0 50%;left:637px;">*AC3</div>
<div class="t" style="top:418.5px;font-size:12.3px;line-height:14px;color:#000;transform:scaleX(0.89);transform-origin:50% 50%;left:374.5px;width:400px;text-align:center;">ADD_DI</div>
<div class="t" style="top:436.5px;font-size:12.3px;line-height:14px;color:#000;transform:scaleX(0.85);transform-origin:0 50%;left:522.5px;">EN</div>
<div class="t" style="top:436.5px;font-size:12.3px;line-height:14px;color:#000;transform:scaleX(0.85);transform-origin:100% 50%;right:845px;text-align:right;">ENO</div>
<div class="t" style="top:472.5px;font-size:12.3px;line-height:14px;color:#000;transform:scaleX(0.85);transform-origin:0 50%;left:522.5px;">IN1</div>
<div class="t" style="top:472.5px;font-size:12.3px;line-height:14px;color:#808000;transform:scaleX(0.885);transform-origin:100% 50%;right:959.5px;text-align:right;">-1</div>
<div class="t" style="top:490.5px;font-size:12.3px;line-height:14px;color:#000;transform:scaleX(0.85);transform-origin:0 50%;left:522.5px;">IN2</div>
<div class="t" style="top:490.5px;font-size:12.3px;line-height:14px;color:#000;transform:scaleX(0.85);transform-origin:100% 50%;right:959.5px;text-align:right;">AC3</div>
<div class="t" style="top:472.5px;font-size:12.3px;line-height:14px;color:#000;transform:scaleX(0.85);transform-origin:100% 50%;right:845px;text-align:right;">OUT</div>
<div class="t" style="top:472.5px;font-size:12.3px;line-height:14px;color:#000;transform:scaleX(0.85);transform-origin:0 50%;left:637px;">AC3</div>
<div class="t" style="top:526.5px;font-size:12.3px;line-height:14px;color:#000;transform:scaleX(0.85);transform-origin:50% 50%;left:374.5px;width:400px;text-align:center;">MOV_B</div>
<div class="t" style="top:544.5px;font-size:12.3px;line-height:14px;color:#000;transform:scaleX(0.85);transform-origin:0 50%;left:522.5px;">EN</div>
<div class="t" style="top:544.5px;font-size:12.3px;line-height:14px;color:#000;transform:scaleX(0.85);transform-origin:100% 50%;right:845px;text-align:right;">ENO</div>
<div class="t" style="top:580.5px;font-size:12.3px;line-height:14px;color:#000;transform:scaleX(0.85);transform-origin:0 50%;left:522.5px;">IN</div>
<div class="t ld" style="top:581.6px;font-size:12px;line-height:14px;color:#000;letter-spacing:0;--c:12.6px;right:959.5px;text-align:right;">#<span class="z">从读写错</span></div>
<div class="t" style="top:580.5px;font-size:12.3px;line-height:14px;color:#000;transform:scaleX(0.85);transform-origin:100% 50%;right:845px;text-align:right;">OUT</div>
<div class="t" style="top:580.5px;font-size:12.3px;line-height:14px;color:#000;transform:scaleX(0.85);transform-origin:0 50%;left:637px;">*AC3</div>
<div class="t" style="top:634.5px;font-size:12.3px;line-height:14px;color:#000;transform:scaleX(0.87);transform-origin:50% 50%;left:374.5px;width:400px;text-align:center;">WAND_B</div>
<div class="t" style="top:652.5px;font-size:12.3px;line-height:14px;color:#000;transform:scaleX(0.85);transform-origin:0 50%;left:522.5px;">EN</div>
<div class="t" style="top:652.5px;font-size:12.3px;line-height:14px;color:#000;transform:scaleX(0.85);transform-origin:100% 50%;right:845px;text-align:right;">ENO</div>
<div class="t" style="top:688.5px;font-size:12.3px;line-height:14px;color:#000;transform:scaleX(0.85);transform-origin:0 50%;left:522.5px;">IN1</div>
<div class="t" style="top:688.5px;font-size:12.3px;line-height:14px;color:#808000;transform:scaleX(0.885);transform-origin:100% 50%;right:959.5px;text-align:right;">2#11001111</div>
<div class="t" style="top:706.5px;font-size:12.3px;line-height:14px;color:#000;transform:scaleX(0.85);transform-origin:0 50%;left:522.5px;">IN2</div>
<div class="t" style="top:706.5px;font-size:12.3px;line-height:14px;color:#000;transform:scaleX(0.85);transform-origin:100% 50%;right:959.5px;text-align:right;">*AC1</div>
<div class="t" style="top:688.5px;font-size:12.3px;line-height:14px;color:#000;transform:scaleX(0.85);transform-origin:100% 50%;right:845px;text-align:right;">OUT</div>
<div class="t" style="top:688.5px;font-size:12.3px;line-height:14px;color:#000;transform:scaleX(0.85);transform-origin:0 50%;left:637px;">*AC1</div>
<div class="t" style="top:742.5px;font-size:12.3px;line-height:14px;color:#000;transform:scaleX(0.89);transform-origin:50% 50%;left:374.5px;width:400px;text-align:center;">ADD_DI</div>
<div class="t" style="top:760.5px;font-size:12.3px;line-height:14px;color:#000;transform:scaleX(0.85);transform-origin:0 50%;left:522.5px;">EN</div>
<div class="t" style="top:760.5px;font-size:12.3px;line-height:14px;color:#000;transform:scaleX(0.85);transform-origin:100% 50%;right:845px;text-align:right;">ENO</div>
<div class="t" style="top:796.5px;font-size:12.3px;line-height:14px;color:#000;transform:scaleX(0.85);transform-origin:0 50%;left:522.5px;">IN1</div>
<div class="t" style="top:796.5px;font-size:12.3px;line-height:14px;color:#808000;transform:scaleX(0.885);transform-origin:100% 50%;right:959.5px;text-align:right;">-10</div>
<div class="t" style="top:814.5px;font-size:12.3px;line-height:14px;color:#000;transform:scaleX(0.85);transform-origin:0 50%;left:522.5px;">IN2</div>
<div class="t" style="top:814.5px;font-size:12.3px;line-height:14px;color:#000;transform:scaleX(0.85);transform-origin:100% 50%;right:959.5px;text-align:right;">AC3</div>
<div class="t" style="top:796.5px;font-size:12.3px;line-height:14px;color:#000;transform:scaleX(0.85);transform-origin:100% 50%;right:845px;text-align:right;">OUT</div>
<div class="t" style="top:796.5px;font-size:12.3px;line-height:14px;color:#000;transform:scaleX(0.85);transform-origin:0 50%;left:637px;">AC3</div>
<div class="t" style="top:850.5px;font-size:12.3px;line-height:14px;color:#000;transform:scaleX(0.85);transform-origin:50% 50%;left:374.5px;width:400px;text-align:center;">MOV_B</div>
<div class="t" style="top:868.5px;font-size:12.3px;line-height:14px;color:#000;transform:scaleX(0.85);transform-origin:0 50%;left:522.5px;">EN</div>
<div class="t" style="top:868.5px;font-size:12.3px;line-height:14px;color:#000;transform:scaleX(0.85);transform-origin:100% 50%;right:845px;text-align:right;">ENO</div>
<div class="t" style="top:904.5px;font-size:12.3px;line-height:14px;color:#000;transform:scaleX(0.85);transform-origin:0 50%;left:522.5px;">IN</div>
<div class="t ld" style="top:905.6px;font-size:12px;line-height:14px;color:#000;letter-spacing:0;--c:12.6px;right:959.5px;text-align:right;">#<span class="z">从读写错</span></div>
<div class="t" style="top:904.5px;font-size:12.3px;line-height:14px;color:#000;transform:scaleX(0.85);transform-origin:100% 50%;right:845px;text-align:right;">OUT</div>
<div class="t" style="top:904.5px;font-size:12.3px;line-height:14px;color:#000;transform:scaleX(0.85);transform-origin:0 50%;left:637px;">*AC3</div>
<div class="t ld" style="top:634.6px;font-size:12px;line-height:14px;color:#000;letter-spacing:0;--c:12.6px;left:134.5px;width:400px;text-align:center;">#<span class="z">取消跳站</span></div>
<div class="t" style="top:130.5px;font-size:12.3px;line-height:14px;color:#000;transform:scaleX(0.85);transform-origin:0 50%;left:202.5px;">*AC3</div>
<svg class="a" style="left:0;top:0" width="897" height="980" shape-rendering="crispEdges" fill="#000"><rect x="32" y="130" width="2" height="808"/><rect x="152" y="130" width="2" height="808"/><rect x="272" y="130" width="2" height="531"/><rect x="392" y="130" width="2" height="423"/><rect x="392" y="659" width="2" height="218"/><rect x="518" y="130" width="2" height="51"/><rect x="629" y="130" width="2" height="51"/><rect x="518" y="179" width="113" height="2"/><rect x="514" y="155" width="4" height="2"/><rect x="514" y="173" width="4" height="2"/><rect x="631" y="155" width="4" height="2"/><rect x="518" y="201" width="113" height="2"/><rect x="518" y="201" width="2" height="88"/><rect x="629" y="201" width="2" height="88"/><rect x="518" y="287" width="113" height="2"/><rect x="392" y="227" width="126" height="2"/><rect x="631" y="227" width="62" height="2"/><rect x="693" y="218" width="2" height="21"/><path d="M684.500 219 L693.500 228 L684.500 237" fill="none" stroke="#000" stroke-width="2" shape-rendering="auto"/><rect x="514" y="263" width="4" height="2"/><rect x="514" y="281" width="4" height="2"/><rect x="631" y="263" width="4" height="2"/><rect x="518" y="309" width="113" height="2"/><rect x="518" y="309" width="2" height="88"/><rect x="629" y="309" width="2" height="88"/><rect x="518" y="395" width="113" height="2"/><rect x="392" y="335" width="126" height="2"/><rect x="631" y="335" width="62" height="2"/><rect x="693" y="326" width="2" height="21"/><path d="M684.500 327 L693.500 336 L684.500 345" fill="none" stroke="#000" stroke-width="2" shape-rendering="auto"/><rect x="514" y="371" width="4" height="2"/><rect x="514" y="389" width="4" height="2"/><rect x="631" y="371" width="4" height="2"/><rect x="518" y="417" width="113" height="2"/><rect x="518" y="417" width="2" height="88"/><rect x="629" y="417" width="2" height="88"/><rect x="518" y="503" width="113" height="2"/><rect x="392" y="443" width="126" height="2"/><rect x="631" y="443" width="62" height="2"/><rect x="693" y="434" width="2" height="21"/><path d="M684.500 435 L693.500 444 L684.500 453" fill="none" stroke="#000" stroke-width="2" shape-rendering="auto"/><rect x="514" y="479" width="4" height="2"/><rect x="514" y="497" width="4" height="2"/><rect x="631" y="479" width="4" height="2"/><rect x="518" y="525" width="113" height="2"/><rect x="518" y="525" width="2" height="70"/><rect x="629" y="525" width="2" height="70"/><rect x="518" y="593" width="113" height="2"/><rect x="392" y="551" width="126" height="2"/><rect x="631" y="551" width="62" height="2"/><rect x="693" y="542" width="2" height="21"/><path d="M684.500 543 L693.500 552 L684.500 561" fill="none" stroke="#000" stroke-width="2" shape-rendering="auto"/><rect x="514" y="587" width="4" height="2"/><rect x="631" y="587" width="4" height="2"/><rect x="518" y="633" width="113" height="2"/><rect x="518" y="633" width="2" height="88"/><rect x="629" y="633" width="2" height="88"/><rect x="518" y="719" width="113" height="2"/><rect x="349" y="659" width="169" height="2"/><rect x="631" y="659" width="62" height="2"/><rect x="693" y="650" width="2" height="21"/><path d="M684.500 651 L693.500 660 L684.500 669" fill="none" stroke="#000" stroke-width="2" shape-rendering="auto"/><rect x="514" y="695" width="4" height="2"/><rect x="514" y="713" width="4" height="2"/><rect x="631" y="695" width="4" height="2"/><rect x="518" y="741" width="113" height="2"/><rect x="518" y="741" width="2" height="88"/><rect x="629" y="741" width="2" height="88"/><rect x="518" y="827" width="113" height="2"/><rect x="392" y="767" width="126" height="2"/><rect x="631" y="767" width="62" height="2"/><rect x="693" y="758" width="2" height="21"/><path d="M684.500 759 L693.500 768 L684.500 777" fill="none" stroke="#000" stroke-width="2" shape-rendering="auto"/><rect x="514" y="803" width="4" height="2"/><rect x="514" y="821" width="4" height="2"/><rect x="631" y="803" width="4" height="2"/><rect x="518" y="849" width="113" height="2"/><rect x="518" y="849" width="2" height="70"/><rect x="629" y="849" width="2" height="70"/><rect x="518" y="917" width="113" height="2"/><rect x="392" y="875" width="126" height="2"/><rect x="631" y="875" width="62" height="2"/><rect x="693" y="866" width="2" height="21"/><path d="M684.500 867 L693.500 876 L684.500 885" fill="none" stroke="#000" stroke-width="2" shape-rendering="auto"/><rect x="514" y="911" width="4" height="2"/><rect x="631" y="911" width="4" height="2"/><rect x="272" y="659" width="46" height="2"/><rect x="317" y="650" width="2" height="20"/><rect x="348" y="650" width="2" height="20"/></svg>
<div class="t cm" style="left:705px;top:603.5px">跳站时及时让后续相同</div>
<div class="t cm" style="left:705px;top:629.85px">站点#从被跳站,并通知</div>
<div class="t cm" style="left:705px;top:656.2px">其跳站的错误原因;</div>
<div class="t cm" style="left:705px;top:682.55px">恢复时及时让后续相同</div>
<div class="t cm" style="left:705px;top:708.9px">站点及时恢复,并通知</div>
<div class="t cm" style="left:705px;top:735.25px">其恢复的原因.</div>
<div style="left:6px;top:938px;width:891px;height:17px;background:#f0f0f0;"></div>
<div style="left:23px;top:938px;width:758px;height:17px;background:#cdcdcd;"></div>
<svg class="a" style="left:10px;top:942px" width="8" height="9"><path d="M6.500 .800L2 4.500L6.500 8.200" fill="none" stroke="#404040" stroke-width="1.600"/></svg>
<div style="left:3px;top:955px;width:894px;height:2px;background:#cdbde6;"></div>
<div style="left:0px;top:957px;width:897px;height:3px;background:linear-gradient(#f4f4f4,#e0e0e0 2px,#8a8a8a 3px);"></div>
<div style="left:0px;top:960px;width:897px;height:20px;background:linear-gradient(#45464e 0,#3c3d44 6px,#2f2f33 8px,#2a2a2d 20px);"></div>
<div style="left:76px;top:962px;width:1px;height:18px;background:#5a5a62;"></div>
<div style="left:115px;top:962px;width:1px;height:18px;background:#5a5a62;"></div>
<div class="t" style="top:965px;font-size:10.5px;line-height:14px;color:#fff;letter-spacing:-.2px;left:86px;">INS</div>
<div style="left:126px;top:965px;width:14px;height:14px;background:#9c9c9c;border-radius:7px;"></div>
<div class="t" style="top:964.5px;font-size:12px;line-height:14px;color:#fff;--c:13px;left:159px;"><span class="z">未连接</span></div>
<div style="left:897px;top:0px;width:3px;height:980px;background:#fbfbfb;"></div>
<div style="left:900px;top:0px;width:2px;height:980px;background:#dcdcdc;"></div>
<div style="left:902px;top:0px;width:2px;height:980px;background:#c6c6c8;"></div>
<div style="left:904px;top:0px;width:568px;height:1px;background:#9ba3ad;"></div>
<div style="left:904px;top:1px;width:377px;height:1px;background:#9ba3ad;"></div>
<div style="left:904px;top:2px;width:376px;height:18px;background:linear-gradient(#ececee 0,#dcdcde 3px,#b4b4b6 10px,#8e8e8e 17px,#868686 18px);"></div>
<div style="left:904px;top:21px;width:30px;height:938px;background:repeating-linear-gradient(#e6e6e8 0,#d2d2d4 4px,#b2b2b4 10px,#8a8a8a 16px,#7e7e7e 18px,#a3a1a4 18px,#a3a1a4 19px);"></div>
<div style="left:935px;top:21px;width:44px;height:938px;background:#efeeec;"></div>
<div style="left:980px;top:21px;width:78px;height:938px;background:#a0fec1;"></div>
<div style="left:1059px;top:21px;width:58px;height:938px;background:#efeeec;"></div>
<div style="left:1118px;top:21px;width:162px;height:938px;background:#a0fec1;"></div>
<div style="left:934px;top:21px;width:347px;height:938px;background:repeating-linear-gradient(transparent 0,transparent 18px,#a3a1a4 18px,#a3a1a4 19px);"></div>
<div style="left:904px;top:20px;width:377px;height:1px;background:#a3a1a4;"></div>
<div style="left:934px;top:2px;width:1px;height:957px;background:#a3a1a4;"></div>
<div style="left:979px;top:2px;width:1px;height:957px;background:#a3a1a4;"></div>
<div style="left:1058px;top:2px;width:1px;height:957px;background:#a3a1a4;"></div>
<div style="left:1117px;top:2px;width:1px;height:957px;background:#a3a1a4;"></div>
<div style="left:1181px;top:2px;width:1px;height:957px;background:#a3a1a4;"></div>
<div style="left:1280px;top:2px;width:1px;height:957px;background:#a3a1a4;"></div>
<div style="left:904px;top:2px;width:1px;height:18px;background:rgba(255,255,255,.55);"></div>
<div style="left:935px;top:2px;width:1px;height:18px;background:rgba(255,255,255,.55);"></div>
<div style="left:980px;top:2px;width:1px;height:18px;background:rgba(255,255,255,.55);"></div>
<div style="left:1059px;top:2px;width:1px;height:18px;background:rgba(255,255,255,.55);"></div>
<div style="left:1118px;top:2px;width:1px;height:18px;background:rgba(255,255,255,.55);"></div>
<div style="left:1182px;top:2px;width:1px;height:18px;background:rgba(255,255,255,.55);"></div>
<div class="t tb" style="top:5.4px;font-size:11px;line-height:14px;color:#000;letter-spacing:-.4px;--c:12.6px;left:939px;"><span class="z">地址</span></div>
<div class="t tb" style="top:5.4px;font-size:11px;line-height:14px;color:#000;letter-spacing:-.4px;--c:12.6px;left:984px;"><span class="z">符号</span></div>
<div class="t tb" style="top:5.4px;font-size:11px;line-height:14px;color:#000;letter-spacing:-.4px;--c:12.6px;left:1063px;"><span class="z">变量类型</span></div>
<div class="t tb" style="top:5.4px;font-size:11px;line-height:14px;color:#000;letter-spacing:-.4px;--c:12.6px;left:1122px;"><span class="z">数据类型</span></div>
<div class="t tb" style="top:5.4px;font-size:11px;line-height:14px;color:#000;letter-spacing:-.4px;--c:12.6px;left:1186px;"><span class="z">注释</span></div>
<div class="t" style="top:22.5px;font-size:12.3px;line-height:14px;color:#000;transform:scaleX(0.86);transform-origin:0 50%;left:909px;">2</div>
<div class="t" style="top:22.5px;font-size:12.3px;line-height:14px;color:#000;transform:scaleX(0.86);transform-origin:0 50%;left:939px;">LD0</div>
<div class="t tb" style="top:23.4px;font-size:11px;line-height:14px;color:#000;letter-spacing:-.4px;--c:12.6px;left:984px;"><span class="z">函数指针</span></div>
<div class="t" style="top:22.5px;font-size:12.3px;line-height:14px;color:#000;transform:scaleX(0.86);transform-origin:0 50%;left:1063px;">IN</div>
<div class="t" style="top:22.5px;font-size:12.3px;line-height:14px;color:#000;transform:scaleX(0.86);transform-origin:0 50%;left:1122px;">DWORD</div>
<div class="t" style="top:41.5px;font-size:12.3px;line-height:14px;color:#000;transform:scaleX(0.86);transform-origin:0 50%;left:909px;">3</div>
<div class="t" style="top:41.5px;font-size:12.3px;line-height:14px;color:#000;transform:scaleX(0.86);transform-origin:0 50%;left:1063px;">IN_OUT</div>
<div class="t" style="top:60.5px;font-size:12.3px;line-height:14px;color:#000;transform:scaleX(0.86);transform-origin:0 50%;left:909px;">4</div>
<div class="t" style="top:60.5px;font-size:12.3px;line-height:14px;color:#000;transform:scaleX(0.86);transform-origin:0 50%;left:1063px;">OUT</div>
<div class="t" style="top:79.5px;font-size:12.3px;line-height:14px;color:#000;transform:scaleX(0.86);transform-origin:0 50%;left:909px;">5</div>
<div class="t" style="top:79.5px;font-size:12.3px;line-height:14px;color:#000;transform:scaleX(0.86);transform-origin:0 50%;left:939px;">L4.0</div>
<div class="t tb" style="top:80.4px;font-size:11px;line-height:14px;color:#000;letter-spacing:-.4px;--c:12.6px;left:984px;"><span class="z">从控触发</span></div>
<div class="t" style="top:79.5px;font-size:12.3px;line-height:14px;color:#000;transform:scaleX(0.86);transform-origin:0 50%;left:1063px;">TEMP</div>
<div class="t" style="top:79.5px;font-size:12.3px;line-height:14px;color:#000;transform:scaleX(0.86);transform-origin:0 50%;left:1122px;">BOOL</div>
<div class="t tb" style="top:80.4px;font-size:11px;line-height:14px;color:#007c04;letter-spacing:-.4px;--c:12.6px;left:1186px;"><span class="z">公共变量</span>-<span class="z">读写</span></div>
<div class="t" style="top:98.5px;font-size:12.3px;line-height:14px;color:#000;transform:scaleX(0.86);transform-origin:0 50%;left:909px;">6</div>
<div class="t" style="top:98.5px;font-size:12.3px;line-height:14px;color:#000;transform:scaleX(0.86);transform-origin:0 50%;left:939px;">L4.1</div>
<div class="t tb" style="top:99.4px;font-size:11px;line-height:14px;color:#000;letter-spacing:-.4px;--c:12.6px;left:984px;"><span class="z">从控完成</span></div>
<div class="t" style="top:98.5px;font-size:12.3px;line-height:14px;color:#000;transform:scaleX(0.86);transform-origin:0 50%;left:1063px;">TEMP</div>
<div class="t" style="top:98.5px;font-size:12.3px;line-height:14px;color:#000;transform:scaleX(0.86);transform-origin:0 50%;left:1122px;">BOOL</div>
<div class="t tb" style="top:99.4px;font-size:11px;line-height:14px;color:#007c04;letter-spacing:-.4px;--c:12.6px;left:1186px;"><span class="z">公共变量</span>-<span class="z">读写</span></div>
<div class="t" style="top:117.5px;font-size:12.3px;line-height:14px;color:#000;transform:scaleX(0.86);transform-origin:0 50%;left:909px;">7</div>
<div class="t" style="top:117.5px;font-size:12.3px;line-height:14px;color:#000;transform:scaleX(0.86);transform-origin:0 50%;left:939px;">L4.2</div>
<div class="t tb" style="top:118.4px;font-size:11px;line-height:14px;color:#000;letter-spacing:-.4px;--c:12.6px;left:984px;"><span class="z">从控完缓</span></div>
<div class="t" style="top:117.5px;font-size:12.3px;line-height:14px;color:#000;transform:scaleX(0.86);transform-origin:0 50%;left:1063px;">TEMP</div>
<div class="t" style="top:117.5px;font-size:12.3px;line-height:14px;color:#000;transform:scaleX(0.86);transform-origin:0 50%;left:1122px;">BOOL</div>
<div class="t tb" style="top:118.4px;font-size:11px;line-height:14px;color:#007c04;letter-spacing:-.4px;--c:12.6px;left:1186px;"><span class="z">公共变量</span>-<span class="z">读写</span></div>
<div class="t" style="top:136.5px;font-size:12.3px;line-height:14px;color:#000;transform:scaleX(0.86);transform-origin:0 50%;left:909px;">8</div>
<div class="t" style="top:136.5px;font-size:12.3px;line-height:14px;color:#000;transform:scaleX(0.86);transform-origin:0 50%;left:939px;">L4.3</div>
<div class="t tb" style="top:137.4px;font-size:11px;line-height:14px;color:#000;letter-spacing:-.4px;--c:12.6px;left:984px;"><span class="z">从控完沿</span></div>
<div class="t" style="top:136.5px;font-size:12.3px;line-height:14px;color:#000;transform:scaleX(0.86);transform-origin:0 50%;left:1063px;">TEMP</div>
<div class="t" style="top:136.5px;font-size:12.3px;line-height:14px;color:#000;transform:scaleX(0.86);transform-origin:0 50%;left:1122px;">BOOL</div>
<div class="t tb" style="top:137.4px;font-size:11px;line-height:14px;color:#007c04;letter-spacing:-.4px;--c:12.6px;left:1186px;"><span class="z">公共变量</span>-<span class="z">读写</span></div>
<div class="t" style="top:155.5px;font-size:12.3px;line-height:14px;color:#000;transform:scaleX(0.86);transform-origin:0 50%;left:909px;">9</div>
<div class="t" style="top:155.5px;font-size:12.3px;line-height:14px;color:#000;transform:scaleX(0.86);transform-origin:0 50%;left:939px;">L4.4</div>
<div class="t tb" style="top:156.4px;font-size:11px;line-height:14px;color:#000;letter-spacing:-.4px;--c:12.6px;left:984px;"><span class="z">从控收发</span></div>
<div class="t" style="top:155.5px;font-size:12.3px;line-height:14px;color:#000;transform:scaleX(0.86);transform-origin:0 50%;left:1063px;">TEMP</div>
<div class="t" style="top:155.5px;font-size:12.3px;line-height:14px;color:#000;transform:scaleX(0.86);transform-origin:0 50%;left:1122px;">BOOL</div>
<div class="t tb" style="top:156.4px;font-size:11px;line-height:14px;color:#007c04;letter-spacing:-.4px;--c:12.6px;left:1186px;"><span class="z">公共变量</span>-<span class="z">读写</span></div>
<div class="t" style="top:174.5px;font-size:12.3px;line-height:14px;color:#000;transform:scaleX(0.86);transform-origin:0 50%;left:909px;">10</div>
<div class="t" style="top:174.5px;font-size:12.3px;line-height:14px;color:#000;transform:scaleX(0.86);transform-origin:0 50%;left:939px;">L4.5</div>
<div class="t tb" style="top:175.4px;font-size:11px;line-height:14px;color:#000;letter-spacing:-.4px;--c:12.6px;left:984px;"><span class="z">从控复位</span></div>
<div class="t" style="top:174.5px;font-size:12.3px;line-height:14px;color:#000;transform:scaleX(0.86);transform-origin:0 50%;left:1063px;">TEMP</div>
<div class="t" style="top:174.5px;font-size:12.3px;line-height:14px;color:#000;transform:scaleX(0.86);transform-origin:0 50%;left:1122px;">BOOL</div>
<div class="t tb" style="top:175.4px;font-size:11px;line-height:14px;color:#007c04;letter-spacing:-.4px;--c:12.6px;left:1186px;"><span class="z">公共变量</span>-<span class="z">读写</span></div>
<div class="t" style="top:193.5px;font-size:12.3px;line-height:14px;color:#000;transform:scaleX(0.86);transform-origin:0 50%;left:909px;">11</div>
<div class="t" style="top:193.5px;font-size:12.3px;line-height:14px;color:#000;transform:scaleX(0.86);transform-origin:0 50%;left:939px;">L4.6</div>
<div class="t tb" style="top:194.4px;font-size:11px;line-height:14px;color:#000;letter-spacing:-.4px;--c:12.6px;left:984px;"><span class="z">从控复缓</span></div>
<div class="t" style="top:193.5px;font-size:12.3px;line-height:14px;color:#000;transform:scaleX(0.86);transform-origin:0 50%;left:1063px;">TEMP</div>
<div class="t" style="top:193.5px;font-size:12.3px;line-height:14px;color:#000;transform:scaleX(0.86);transform-origin:0 50%;left:1122px;">BOOL</div>
<div class="t tb" style="top:194.4px;font-size:11px;line-height:14px;color:#007c04;letter-spacing:-.4px;--c:12.6px;left:1186px;"><span class="z">公共变量</span>-<span class="z">读写</span></div>
<div class="t" style="top:212.5px;font-size:12.3px;line-height:14px;color:#000;transform:scaleX(0.86);transform-origin:0 50%;left:909px;">12</div>
<div class="t" style="top:212.5px;font-size:12.3px;line-height:14px;color:#000;transform:scaleX(0.86);transform-origin:0 50%;left:939px;">LB5</div>
<div class="t tb" style="top:213.4px;font-size:11px;line-height:14px;color:#000;letter-spacing:-.4px;--c:12.6px;left:984px;"><span class="z">从控错误</span></div>
<div class="t" style="top:212.5px;font-size:12.3px;line-height:14px;color:#000;transform:scaleX(0.86);transform-origin:0 50%;left:1063px;">TEMP</div>
<div class="t" style="top:212.5px;font-size:12.3px;line-height:14px;color:#000;transform:scaleX(0.86);transform-origin:0 50%;left:1122px;">BYTE</div>
<div class="t tb" style="top:213.4px;font-size:11px;line-height:14px;color:#007c04;letter-spacing:-.4px;--c:12.6px;left:1186px;"><span class="z">公共变量</span>-<span class="z">读写</span></div>
<div class="t" style="top:231.5px;font-size:12.3px;line-height:14px;color:#000;transform:scaleX(0.86);transform-origin:0 50%;left:909px;">13</div>
<div class="t" style="top:231.5px;font-size:12.3px;line-height:14px;color:#000;transform:scaleX(0.86);transform-origin:0 50%;left:939px;">LD6</div>
<div class="t tb" style="top:232.4px;font-size:11px;line-height:14px;color:#000;letter-spacing:-.4px;--c:12.6px;left:984px;"><span class="z">全局循计</span></div>
<div class="t" style="top:231.5px;font-size:12.3px;line-height:14px;color:#000;transform:scaleX(0.86);transform-origin:0 50%;left:1063px;">TEMP</div>
<div class="t" style="top:231.5px;font-size:12.3px;line-height:14px;color:#000;transform:scaleX(0.86);transform-origin:0 50%;left:1122px;">DWORD</div>
<div class="t tb" style="top:232.4px;font-size:11px;line-height:14px;color:#007c04;letter-spacing:-.4px;--c:12.6px;left:1186px;"><span class="z">公共变量</span>-<span class="z">读写</span></div>
<div class="t" style="top:250.5px;font-size:12.3px;line-height:14px;color:#000;transform:scaleX(0.86);transform-origin:0 50%;left:909px;">14</div>
<div class="t" style="top:250.5px;font-size:12.3px;line-height:14px;color:#000;transform:scaleX(0.86);transform-origin:0 50%;left:1063px;">TEMP</div>
<div class="t" style="top:269.5px;font-size:12.3px;line-height:14px;color:#000;transform:scaleX(0.86);transform-origin:0 50%;left:909px;">15</div>
<div class="t" style="top:269.5px;font-size:12.3px;line-height:14px;color:#000;transform:scaleX(0.86);transform-origin:0 50%;left:939px;">LD10</div>
<div class="t tb" style="top:270.4px;font-size:11px;line-height:14px;color:#000;letter-spacing:-.4px;--c:12.6px;left:984px;"><span class="z">全局时钟</span></div>
<div class="t" style="top:269.5px;font-size:12.3px;line-height:14px;color:#000;transform:scaleX(0.86);transform-origin:0 50%;left:1063px;">TEMP</div>
<div class="t" style="top:269.5px;font-size:12.3px;line-height:14px;color:#000;transform:scaleX(0.86);transform-origin:0 50%;left:1122px;">DWORD</div>
<div class="t tb" style="top:270.4px;font-size:11px;line-height:14px;color:#007c04;letter-spacing:-.4px;--c:12.6px;left:1186px;"><span class="z">公共变量</span>-<span class="z">只读</span></div>
<div class="t" style="top:288.5px;font-size:12.3px;line-height:14px;color:#000;transform:scaleX(0.86);transform-origin:0 50%;left:909px;">16</div>
<div class="t" style="top:288.5px;font-size:12.3px;line-height:14px;color:#000;transform:scaleX(0.86);transform-origin:0 50%;left:939px;">LD14</div>
<div class="t tb" style="top:289.4px;font-size:11px;line-height:14px;color:#000;letter-spacing:-.4px;--c:12.6px;left:984px;"><span class="z">全局循环</span></div>
<div class="t" style="top:288.5px;font-size:12.3px;line-height:14px;color:#000;transform:scaleX(0.86);transform-origin:0 50%;left:1063px;">TEMP</div>
<div class="t" style="top:288.5px;font-size:12.3px;line-height:14px;color:#000;transform:scaleX(0.86);transform-origin:0 50%;left:1122px;">DWORD</div>
<div class="t tb" style="top:289.4px;font-size:11px;line-height:14px;color:#007c04;letter-spacing:-.4px;--c:12.6px;left:1186px;"><span class="z">公共变量</span>-<span class="z">只读</span></div>
<div class="t" style="top:307.5px;font-size:12.3px;line-height:14px;color:#000;transform:scaleX(0.86);transform-origin:0 50%;left:909px;">17</div>
<div class="t" style="top:307.5px;font-size:12.3px;line-height:14px;color:#000;transform:scaleX(0.86);transform-origin:0 50%;left:939px;">LD18</div>
<div class="t tb" style="top:308.4px;font-size:11px;line-height:14px;color:#000;letter-spacing:-.4px;--c:12.6px;left:984px;"><span class="z">恢复毫秒</span></div>
<div class="t" style="top:307.5px;font-size:12.3px;line-height:14px;color:#000;transform:scaleX(0.86);transform-origin:0 50%;left:1063px;">TEMP</div>
<div class="t" style="top:307.5px;font-size:12.3px;line-height:14px;color:#000;transform:scaleX(0.86);transform-origin:0 50%;left:1122px;">DWORD</div>
<div class="t tb" style="top:308.4px;font-size:11px;line-height:14px;color:#007c04;letter-spacing:-.4px;--c:12.6px;left:1186px;"><span class="z">公共变量</span>-<span class="z">只读</span></div>
<div class="t" style="top:326.5px;font-size:12.3px;line-height:14px;color:#000;transform:scaleX(0.86);transform-origin:0 50%;left:909px;">18</div>
<div class="t" style="top:326.5px;font-size:12.3px;line-height:14px;color:#000;transform:scaleX(0.86);transform-origin:0 50%;left:939px;">LD22</div>
<div class="t tb" style="top:327.4px;font-size:11px;line-height:14px;color:#000;letter-spacing:-.4px;--c:12.6px;left:984px;"><span class="z">从波特率</span></div>
<div class="t" style="top:326.5px;font-size:12.3px;line-height:14px;color:#000;transform:scaleX(0.86);transform-origin:0 50%;left:1063px;">TEMP</div>
<div class="t" style="top:326.5px;font-size:12.3px;line-height:14px;color:#000;transform:scaleX(0.86);transform-origin:0 50%;left:1122px;">DWORD</div>
<div class="t tb" style="top:327.4px;font-size:11px;line-height:14px;color:#007c04;letter-spacing:-.4px;--c:12.6px;left:1186px;"><span class="z">公共变量</span>-<span class="z">只读</span></div>
<div class="t" style="top:345.5px;font-size:12.3px;line-height:14px;color:#000;transform:scaleX(0.86);transform-origin:0 50%;left:909px;">19</div>
<div class="t" style="top:345.5px;font-size:12.3px;line-height:14px;color:#000;transform:scaleX(0.86);transform-origin:0 50%;left:939px;">LB26</div>
<div class="t tb" style="top:346.4px;font-size:11px;line-height:14px;color:#000;letter-spacing:-.4px;--c:12.6px;left:984px;"><span class="z">从校验码</span></div>
<div class="t" style="top:345.5px;font-size:12.3px;line-height:14px;color:#000;transform:scaleX(0.86);transform-origin:0 50%;left:1063px;">TEMP</div>
<div class="t" style="top:345.5px;font-size:12.3px;line-height:14px;color:#000;transform:scaleX(0.86);transform-origin:0 50%;left:1122px;">BYTE</div>
<div class="t tb" style="top:346.4px;font-size:11px;line-height:14px;color:#007c04;letter-spacing:-.4px;--c:12.6px;left:1186px;"><span class="z">公共变量</span>-<span class="z">只读</span></div>
<div class="t" style="top:364.5px;font-size:12.3px;line-height:14px;color:#000;transform:scaleX(0.86);transform-origin:0 50%;left:909px;">20</div>
<div class="t" style="top:364.5px;font-size:12.3px;line-height:14px;color:#000;transform:scaleX(0.86);transform-origin:0 50%;left:939px;">LB27</div>
<div class="t tb" style="top:365.4px;font-size:11px;line-height:14px;color:#000;letter-spacing:-.4px;--c:12.6px;left:984px;"><span class="z">从端口号</span></div>
<div class="t" style="top:364.5px;font-size:12.3px;line-height:14px;color:#000;transform:scaleX(0.86);transform-origin:0 50%;left:1063px;">TEMP</div>
<div class="t" style="top:364.5px;font-size:12.3px;line-height:14px;color:#000;transform:scaleX(0.86);transform-origin:0 50%;left:1122px;">BYTE</div>
<div class="t tb" style="top:365.4px;font-size:11px;line-height:14px;color:#007c04;letter-spacing:-.4px;--c:12.6px;left:1186px;"><span class="z">公共变量</span>-<span class="z">只读</span></div>
<div class="t" style="top:383.5px;font-size:12.3px;line-height:14px;color:#000;transform:scaleX(0.86);transform-origin:0 50%;left:909px;">21</div>
<div class="t" style="top:383.5px;font-size:12.3px;line-height:14px;color:#000;transform:scaleX(0.86);transform-origin:0 50%;left:939px;">LW28</div>
<div class="t tb" style="top:384.4px;font-size:11px;line-height:14px;color:#000;letter-spacing:-.4px;--c:12.6px;left:984px;"><span class="z">从超毫秒</span></div>
<div class="t" style="top:383.5px;font-size:12.3px;line-height:14px;color:#000;transform:scaleX(0.86);transform-origin:0 50%;left:1063px;">TEMP</div>
<div class="t" style="top:383.5px;font-size:12.3px;line-height:14px;color:#000;transform:scaleX(0.86);transform-origin:0 50%;left:1122px;">WORD</div>
<div class="t tb" style="top:384.4px;font-size:11px;line-height:14px;color:#007c04;letter-spacing:-.4px;--c:12.6px;left:1186px;"><span class="z">公共变量</span>-<span class="z">只读</span></div>
<div class="t" style="top:402.5px;font-size:12.3px;line-height:14px;color:#000;transform:scaleX(0.86);transform-origin:0 50%;left:909px;">22</div>
<div class="t" style="top:402.5px;font-size:12.3px;line-height:14px;color:#000;transform:scaleX(0.86);transform-origin:0 50%;left:1063px;">TEMP</div>
<div class="t" style="top:421.5px;font-size:12.3px;line-height:14px;color:#000;transform:scaleX(0.86);transform-origin:0 50%;left:909px;">23</div>
<div class="t" style="top:421.5px;font-size:12.3px;line-height:14px;color:#000;transform:scaleX(0.86);transform-origin:0 50%;left:939px;">L30.0</div>
<div class="t tb" style="top:422.4px;font-size:11px;line-height:14px;color:#000;letter-spacing:-.4px;--c:12.6px;left:984px;"><span class="z">从读写完</span></div>
<div class="t" style="top:421.5px;font-size:12.3px;line-height:14px;color:#000;transform:scaleX(0.86);transform-origin:0 50%;left:1063px;">TEMP</div>
<div class="t" style="top:421.5px;font-size:12.3px;line-height:14px;color:#000;transform:scaleX(0.86);transform-origin:0 50%;left:1122px;">BOOL</div>
<div class="t tb" style="top:422.4px;font-size:11px;line-height:14px;color:#007c04;letter-spacing:-.4px;--c:12.6px;left:1186px;"><span class="z">私有变量</span>-<span class="z">读写</span></div>
<div class="t" style="top:440.5px;font-size:12.3px;line-height:14px;color:#000;transform:scaleX(0.86);transform-origin:0 50%;left:909px;">24</div>
<div class="t" style="top:440.5px;font-size:12.3px;line-height:14px;color:#000;transform:scaleX(0.86);transform-origin:0 50%;left:939px;">L30.1</div>
<div class="t tb" style="top:441.4px;font-size:11px;line-height:14px;color:#000;letter-spacing:-.4px;--c:12.6px;left:984px;"><span class="z">从读写缓</span></div>
<div class="t" style="top:440.5px;font-size:12.3px;line-height:14px;color:#000;transform:scaleX(0.86);transform-origin:0 50%;left:1063px;">TEMP</div>
<div class="t" style="top:440.5px;font-size:12.3px;line-height:14px;color:#000;transform:scaleX(0.86);transform-origin:0 50%;left:1122px;">BOOL</div>
<div class="t tb" style="top:441.4px;font-size:11px;line-height:14px;color:#007c04;letter-spacing:-.4px;--c:12.6px;left:1186px;"><span class="z">私有变量</span>-<span class="z">读写</span></div>
<div class="t" style="top:459.5px;font-size:12.3px;line-height:14px;color:#000;transform:scaleX(0.86);transform-origin:0 50%;left:909px;">25</div>
<div class="t" style="top:459.5px;font-size:12.3px;line-height:14px;color:#000;transform:scaleX(0.86);transform-origin:0 50%;left:939px;">L30.2</div>
<div class="t tb" style="top:460.4px;font-size:11px;line-height:14px;color:#000;letter-spacing:-.4px;--c:12.6px;left:984px;"><span class="z">从主取消</span></div>
<div class="t" style="top:459.5px;font-size:12.3px;line-height:14px;color:#000;transform:scaleX(0.86);transform-origin:0 50%;left:1063px;">TEMP</div>
<div class="t" style="top:459.5px;font-size:12.3px;line-height:14px;color:#000;transform:scaleX(0.86);transform-origin:0 50%;left:1122px;">BOOL</div>
<div class="t tb" style="top:460.4px;font-size:11px;line-height:14px;color:#007c04;letter-spacing:-.4px;--c:12.6px;left:1186px;"><span class="z">私有变量</span>-<span class="z">读写</span></div>
<div class="t" style="top:478.5px;font-size:12.3px;line-height:14px;color:#000;transform:scaleX(0.86);transform-origin:0 50%;left:909px;">26</div>
<div class="t" style="top:478.5px;font-size:12.3px;line-height:14px;color:#000;transform:scaleX(0.86);transform-origin:0 50%;left:939px;">L30.3</div>
<div class="t tb" style="top:479.4px;font-size:11px;line-height:14px;color:#000;letter-spacing:-.4px;--c:12.6px;left:984px;"><span class="z">从站触发</span></div>
<div class="t" style="top:478.5px;font-size:12.3px;line-height:14px;color:#000;transform:scaleX(0.86);transform-origin:0 50%;left:1063px;">TEMP</div>
<div class="t" style="top:478.5px;font-size:12.3px;line-height:14px;color:#000;transform:scaleX(0.86);transform-origin:0 50%;left:1122px;">BOOL</div>
<div class="t tb" style="top:479.4px;font-size:11px;line-height:14px;color:#007c04;letter-spacing:-.4px;--c:12.6px;left:1186px;"><span class="z">私有变量</span>-<span class="z">读写</span></div>
<div class="t" style="top:497.5px;font-size:12.3px;line-height:14px;color:#000;transform:scaleX(0.86);transform-origin:0 50%;left:909px;">27</div>
<div class="t" style="top:497.5px;font-size:12.3px;line-height:14px;color:#000;transform:scaleX(0.86);transform-origin:0 50%;left:939px;">L30.4</div>
<div class="t tb" style="top:498.4px;font-size:11px;line-height:14px;color:#000;letter-spacing:-.4px;--c:12.6px;left:984px;"><span class="z">从被跳站</span></div>
<div class="t" style="top:497.5px;font-size:12.3px;line-height:14px;color:#000;transform:scaleX(0.86);transform-origin:0 50%;left:1063px;">TEMP</div>
<div class="t" style="top:497.5px;font-size:12.3px;line-height:14px;color:#000;transform:scaleX(0.86);transform-origin:0 50%;left:1122px;">BOOL</div>
<div class="t tb" style="top:498.4px;font-size:11px;line-height:14px;color:#007c04;letter-spacing:-.4px;--c:12.6px;left:1186px;"><span class="z">私有变量</span>-<span class="z">读写</span></div>
<div class="t" style="top:516.5px;font-size:12.3px;line-height:14px;color:#000;transform:scaleX(0.86);transform-origin:0 50%;left:909px;">28</div>
<div class="t" style="top:516.5px;font-size:12.3px;line-height:14px;color:#000;transform:scaleX(0.86);transform-origin:0 50%;left:939px;">L30.5</div>
<div class="t tb" style="top:517.4px;font-size:11px;line-height:14px;color:#000;letter-spacing:-.4px;--c:12.6px;left:984px;"><span class="z">从主跳站</span></div>
<div class="t" style="top:516.5px;font-size:12.3px;line-height:14px;color:#000;transform:scaleX(0.86);transform-origin:0 50%;left:1063px;">TEMP</div>
<div class="t" style="top:516.5px;font-size:12.3px;line-height:14px;color:#000;transform:scaleX(0.86);transform-origin:0 50%;left:1122px;">BOOL</div>
<div class="t tb" style="top:517.4px;font-size:11px;line-height:14px;color:#007c04;letter-spacing:-.4px;--c:12.6px;left:1186px;"><span class="z">私有变量</span>-<span class="z">读写</span></div>
<div class="t" style="top:535.5px;font-size:12.3px;line-height:14px;color:#000;transform:scaleX(0.86);transform-origin:0 50%;left:909px;">29</div>
<div class="t" style="top:535.5px;font-size:12.3px;line-height:14px;color:#000;transform:scaleX(0.86);transform-origin:0 50%;left:939px;">L30.6</div>
<div class="t tb" style="top:536.4px;font-size:11px;line-height:14px;color:#000;letter-spacing:-.4px;--c:12.6px;left:984px;"><span class="z">从主取缓</span></div>
<div class="t" style="top:535.5px;font-size:12.3px;line-height:14px;color:#000;transform:scaleX(0.86);transform-origin:0 50%;left:1063px;">TEMP</div>
<div class="t" style="top:535.5px;font-size:12.3px;line-height:14px;color:#000;transform:scaleX(0.86);transform-origin:0 50%;left:1122px;">BOOL</div>
<div class="t tb" style="top:536.4px;font-size:11px;line-height:14px;color:#007c04;letter-spacing:-.4px;--c:12.6px;left:1186px;"><span class="z">私有变量</span>-<span class="z">读写</span></div>
<div class="t" style="top:554.5px;font-size:12.3px;line-height:14px;color:#000;transform:scaleX(0.86);transform-origin:0 50%;left:909px;">30</div>
<div class="t" style="top:554.5px;font-size:12.3px;line-height:14px;color:#000;transform:scaleX(0.86);transform-origin:0 50%;left:939px;">L30.7</div>
<div class="t tb" style="top:555.4px;font-size:11px;line-height:14px;color:#000;letter-spacing:-.4px;--c:12.6px;left:984px;"><span class="z">从主跳缓</span></div>
<div class="t" style="top:554.5px;font-size:12.3px;line-height:14px;color:#000;transform:scaleX(0.86);transform-origin:0 50%;left:1063px;">TEMP</div>
<div class="t" style="top:554.5px;font-size:12.3px;line-height:14px;color:#000;transform:scaleX(0.86);transform-origin:0 50%;left:1122px;">BOOL</div>
<div class="t tb" style="top:555.4px;font-size:11px;line-height:14px;color:#007c04;letter-spacing:-.4px;--c:12.6px;left:1186px;"><span class="z">私有变量</span>-<span class="z">读写</span></div>
<div class="t" style="top:573.5px;font-size:12.3px;line-height:14px;color:#000;transform:scaleX(0.86);transform-origin:0 50%;left:909px;">31</div>
<div class="t" style="top:573.5px;font-size:12.3px;line-height:14px;color:#000;transform:scaleX(0.86);transform-origin:0 50%;left:939px;">LB31</div>
<div class="t tb" style="top:574.4px;font-size:11px;line-height:14px;color:#000;letter-spacing:-.4px;--c:12.6px;left:984px;"><span class="z">从读写错</span></div>
<div class="t" style="top:573.5px;font-size:12.3px;line-height:14px;color:#000;transform:scaleX(0.86);transform-origin:0 50%;left:1063px;">TEMP</div>
<div class="t" style="top:573.5px;font-size:12.3px;line-height:14px;color:#000;transform:scaleX(0.86);transform-origin:0 50%;left:1122px;">BYTE</div>
<div class="t tb" style="top:574.4px;font-size:11px;line-height:14px;color:#007c04;letter-spacing:-.4px;--c:12.6px;left:1186px;"><span class="z">私有变量</span>-<span class="z">读写</span></div>
<div class="t" style="top:592.5px;font-size:12.3px;line-height:14px;color:#000;transform:scaleX(0.86);transform-origin:0 50%;left:909px;">32</div>
<div class="t" style="top:592.5px;font-size:12.3px;line-height:14px;color:#000;transform:scaleX(0.86);transform-origin:0 50%;left:939px;">LD32</div>
<div class="t tb" style="top:593.4px;font-size:11px;line-height:14px;color:#000;letter-spacing:-.4px;--c:12.6px;left:984px;"><span class="z">从超动时</span></div>
<div class="t" style="top:592.5px;font-size:12.3px;line-height:14px;color:#000;transform:scaleX(0.86);transform-origin:0 50%;left:1063px;">TEMP</div>
<div class="t" style="top:592.5px;font-size:12.3px;line-height:14px;color:#000;transform:scaleX(0.86);transform-origin:0 50%;left:1122px;">DWORD</div>
<div class="t tb" style="top:593.4px;font-size:11px;line-height:14px;color:#007c04;letter-spacing:-.4px;--c:12.6px;left:1186px;"><span class="z">私有变量</span>-<span class="z">读写</span></div>
<div class="t" style="top:611.5px;font-size:12.3px;line-height:14px;color:#000;transform:scaleX(0.86);transform-origin:0 50%;left:909px;">33</div>
<div class="t" style="top:611.5px;font-size:12.3px;line-height:14px;color:#000;transform:scaleX(0.86);transform-origin:0 50%;left:939px;">L36.0</div>
<div class="t tb" style="top:612.4px;font-size:11px;line-height:14px;color:#000;letter-spacing:-.4px;--c:12.6px;left:984px;"><span class="z">从变才写</span></div>
<div class="t" style="top:611.5px;font-size:12.3px;line-height:14px;color:#000;transform:scaleX(0.86);transform-origin:0 50%;left:1063px;">TEMP</div>
<div class="t" style="top:611.5px;font-size:12.3px;line-height:14px;color:#000;transform:scaleX(0.86);transform-origin:0 50%;left:1122px;">BOOL</div>
<div class="t tb" style="top:612.4px;font-size:11px;line-height:14px;color:#007c04;letter-spacing:-.4px;--c:12.6px;left:1186px;"><span class="z">私有变量</span>-<span class="z">读写</span></div>
<div class="t" style="top:630.5px;font-size:12.3px;line-height:14px;color:#000;transform:scaleX(0.86);transform-origin:0 50%;left:909px;">34</div>
<div class="t" style="top:630.5px;font-size:12.3px;line-height:14px;color:#000;transform:scaleX(0.86);transform-origin:0 50%;left:939px;">L36.1</div>
<div class="t tb" style="top:631.4px;font-size:11px;line-height:14px;color:#000;letter-spacing:-.4px;--c:12.6px;left:984px;"><span class="z">从变启写</span></div>
<div class="t" style="top:630.5px;font-size:12.3px;line-height:14px;color:#000;transform:scaleX(0.86);transform-origin:0 50%;left:1063px;">TEMP</div>
<div class="t" style="top:630.5px;font-size:12.3px;line-height:14px;color:#000;transform:scaleX(0.86);transform-origin:0 50%;left:1122px;">BOOL</div>
<div class="t tb" style="top:631.4px;font-size:11px;line-height:14px;color:#007c04;letter-spacing:-.4px;--c:12.6px;left:1186px;"><span class="z">私有变量</span>-<span class="z">读写</span></div>
<div class="t" style="top:649.5px;font-size:12.3px;line-height:14px;color:#000;transform:scaleX(0.86);transform-origin:0 50%;left:909px;">35</div>
<div class="t" style="top:649.5px;font-size:12.3px;line-height:14px;color:#000;transform:scaleX(0.86);transform-origin:0 50%;left:939px;">L36.2</div>
<div class="t tb" style="top:650.4px;font-size:11px;line-height:14px;color:#000;letter-spacing:-.4px;--c:12.6px;left:984px;"><span class="z">从被屏蔽</span></div>
<div class="t" style="top:649.5px;font-size:12.3px;line-height:14px;color:#000;transform:scaleX(0.86);transform-origin:0 50%;left:1063px;">TEMP</div>
<div class="t" style="top:649.5px;font-size:12.3px;line-height:14px;color:#000;transform:scaleX(0.86);transform-origin:0 50%;left:1122px;">BOOL</div>
<div class="t tb" style="top:650.4px;font-size:11px;line-height:14px;color:#007c04;letter-spacing:-.4px;--c:12.6px;left:1186px;"><span class="z">私有变量</span>-<span class="z">读写</span></div>
<div class="t" style="top:668.5px;font-size:12.3px;line-height:14px;color:#000;transform:scaleX(0.86);transform-origin:0 50%;left:909px;">36</div>
<div class="t" style="top:668.5px;font-size:12.3px;line-height:14px;color:#000;transform:scaleX(0.86);transform-origin:0 50%;left:939px;">L36.3</div>
<div class="t tb" style="top:669.4px;font-size:11px;line-height:14px;color:#000;letter-spacing:-.4px;--c:12.6px;left:984px;"><span class="z">从读写沿</span></div>
<div class="t" style="top:668.5px;font-size:12.3px;line-height:14px;color:#000;transform:scaleX(0.86);transform-origin:0 50%;left:1063px;">TEMP</div>
<div class="t" style="top:668.5px;font-size:12.3px;line-height:14px;color:#000;transform:scaleX(0.86);transform-origin:0 50%;left:1122px;">BOOL</div>
<div class="t tb" style="top:669.4px;font-size:11px;line-height:14px;color:#007c04;letter-spacing:-.4px;--c:12.6px;left:1186px;"><span class="z">私有变量</span>-<span class="z">读写</span></div>
<div class="t" style="top:687.5px;font-size:12.3px;line-height:14px;color:#000;transform:scaleX(0.86);transform-origin:0 50%;left:909px;">37</div>
<div class="t" style="top:687.5px;font-size:12.3px;line-height:14px;color:#000;transform:scaleX(0.86);transform-origin:0 50%;left:939px;">L36.4</div>
<div class="t tb" style="top:688.4px;font-size:11px;line-height:14px;color:#000;letter-spacing:-.4px;--c:12.6px;left:984px;"><span class="z">从变缓存</span></div>
<div class="t" style="top:687.5px;font-size:12.3px;line-height:14px;color:#000;transform:scaleX(0.86);transform-origin:0 50%;left:1063px;">TEMP</div>
<div class="t" style="top:687.5px;font-size:12.3px;line-height:14px;color:#000;transform:scaleX(0.86);transform-origin:0 50%;left:1122px;">BOOL</div>
<div class="t tb" style="top:688.4px;font-size:11px;line-height:14px;color:#007c04;letter-spacing:-.4px;--c:12.6px;left:1186px;"><span class="z">私有变量</span>-<span class="z">读写</span></div>
<div class="t" style="top:706.5px;font-size:12.3px;line-height:14px;color:#000;transform:scaleX(0.86);transform-origin:0 50%;left:909px;">38</div>
<div class="t" style="top:706.5px;font-size:12.3px;line-height:14px;color:#000;transform:scaleX(0.86);transform-origin:0 50%;left:939px;">L36.5</div>
<div class="t tb" style="top:707.4px;font-size:11px;line-height:14px;color:#000;letter-spacing:-.4px;--c:12.6px;left:984px;"><span class="z">从变锁定</span></div>
<div class="t" style="top:706.5px;font-size:12.3px;line-height:14px;color:#000;transform:scaleX(0.86);transform-origin:0 50%;left:1063px;">TEMP</div>
<div class="t" style="top:706.5px;font-size:12.3px;line-height:14px;color:#000;transform:scaleX(0.86);transform-origin:0 50%;left:1122px;">BOOL</div>
<div class="t tb" style="top:707.4px;font-size:11px;line-height:14px;color:#007c04;letter-spacing:-.4px;--c:12.6px;left:1186px;"><span class="z">私有变量</span>-<span class="z">读写</span></div>
<div class="t" style="top:725.5px;font-size:12.3px;line-height:14px;color:#000;transform:scaleX(0.86);transform-origin:0 50%;left:909px;">39</div>
<div class="t" style="top:725.5px;font-size:12.3px;line-height:14px;color:#000;transform:scaleX(0.86);transform-origin:0 50%;left:939px;">LB37</div>
<div class="t tb" style="top:726.4px;font-size:11px;line-height:14px;color:#000;letter-spacing:-.4px;--c:12.6px;left:984px;"><span class="z">从预留一</span></div>
<div class="t" style="top:725.5px;font-size:12.3px;line-height:14px;color:#000;transform:scaleX(0.86);transform-origin:0 50%;left:1063px;">TEMP</div>
<div class="t" style="top:725.5px;font-size:12.3px;line-height:14px;color:#000;transform:scaleX(0.86);transform-origin:0 50%;left:1122px;">BYTE</div>
<div class="t tb" style="top:726.4px;font-size:11px;line-height:14px;color:#007c04;letter-spacing:-.4px;--c:12.6px;left:1186px;"><span class="z">私有变量</span>-<span class="z">读写</span></div>
<div class="t" style="top:744.5px;font-size:12.3px;line-height:14px;color:#000;transform:scaleX(0.86);transform-origin:0 50%;left:909px;">40</div>
<div class="t" style="top:744.5px;font-size:12.3px;line-height:14px;color:#000;transform:scaleX(0.86);transform-origin:0 50%;left:939px;">LB38</div>
<div class="t tb" style="top:745.4px;font-size:11px;line-height:14px;color:#000;letter-spacing:-.4px;--c:12.6px;left:984px;"><span class="z">从预留二</span></div>
<div class="t" style="top:744.5px;font-size:12.3px;line-height:14px;color:#000;transform:scaleX(0.86);transform-origin:0 50%;left:1063px;">TEMP</div>
<div class="t" style="top:744.5px;font-size:12.3px;line-height:14px;color:#000;transform:scaleX(0.86);transform-origin:0 50%;left:1122px;">BYTE</div>
<div class="t tb" style="top:745.4px;font-size:11px;line-height:14px;color:#007c04;letter-spacing:-.4px;--c:12.6px;left:1186px;"><span class="z">私有变量</span>-<span class="z">读写</span></div>
<div class="t" style="top:763.5px;font-size:12.3px;line-height:14px;color:#000;transform:scaleX(0.86);transform-origin:0 50%;left:909px;">41</div>
<div class="t" style="top:763.5px;font-size:12.3px;line-height:14px;color:#000;transform:scaleX(0.86);transform-origin:0 50%;left:939px;">LB39</div>
<div class="t tb" style="top:764.4px;font-size:11px;line-height:14px;color:#000;letter-spacing:-.4px;--c:12.6px;left:984px;"><span class="z">从预留三</span></div>
<div class="t" style="top:763.5px;font-size:12.3px;line-height:14px;color:#000;transform:scaleX(0.86);transform-origin:0 50%;left:1063px;">TEMP</div>
<div class="t" style="top:763.5px;font-size:12.3px;line-height:14px;color:#000;transform:scaleX(0.86);transform-origin:0 50%;left:1122px;">BYTE</div>
<div class="t tb" style="top:764.4px;font-size:11px;line-height:14px;color:#007c04;letter-spacing:-.4px;--c:12.6px;left:1186px;"><span class="z">私有变量</span>-<span class="z">读写</span></div>
<div class="t" style="top:782.5px;font-size:12.3px;line-height:14px;color:#000;transform:scaleX(0.86);transform-origin:0 50%;left:909px;">42</div>
<div class="t" style="top:782.5px;font-size:12.3px;line-height:14px;color:#000;transform:scaleX(0.86);transform-origin:0 50%;left:1063px;">TEMP</div>
<div class="t" style="top:801.5px;font-size:12.3px;line-height:14px;color:#000;transform:scaleX(0.86);transform-origin:0 50%;left:909px;">43</div>
<div class="t" style="top:801.5px;font-size:12.3px;line-height:14px;color:#000;transform:scaleX(0.86);transform-origin:0 50%;left:939px;">LB40</div>
<div class="t tb" style="top:802.4px;font-size:11px;line-height:14px;color:#000;letter-spacing:-.4px;--c:12.6px;left:984px;"><span class="z">从优先级</span></div>
<div class="t" style="top:801.5px;font-size:12.3px;line-height:14px;color:#000;transform:scaleX(0.86);transform-origin:0 50%;left:1063px;">TEMP</div>
<div class="t" style="top:801.5px;font-size:12.3px;line-height:14px;color:#000;transform:scaleX(0.86);transform-origin:0 50%;left:1122px;">BYTE</div>
<div class="t tb" style="top:802.4px;font-size:11px;line-height:14px;color:#007c04;letter-spacing:-.4px;--c:12.6px;left:1186px;"><span class="z">私有变量</span>-<span class="z">只读</span></div>
<div class="t" style="top:820.5px;font-size:12.3px;line-height:14px;color:#000;transform:scaleX(0.86);transform-origin:0 50%;left:909px;">44</div>
<div class="t" style="top:820.5px;font-size:12.3px;line-height:14px;color:#000;transform:scaleX(0.86);transform-origin:0 50%;left:939px;">LB41</div>
<div class="t tb" style="top:821.4px;font-size:11px;line-height:14px;color:#000;letter-spacing:-.4px;--c:12.6px;left:984px;"><span class="z">从站地址</span></div>
<div class="t" style="top:820.5px;font-size:12.3px;line-height:14px;color:#000;transform:scaleX(0.86);transform-origin:0 50%;left:1063px;">TEMP</div>
<div class="t" style="top:820.5px;font-size:12.3px;line-height:14px;color:#000;transform:scaleX(0.86);transform-origin:0 50%;left:1122px;">BYTE</div>
<div class="t tb" style="top:821.4px;font-size:11px;line-height:14px;color:#007c04;letter-spacing:-.4px;--c:12.6px;left:1186px;"><span class="z">私有变量</span>-<span class="z">只读</span></div>
<div class="t" style="top:839.5px;font-size:12.3px;line-height:14px;color:#000;transform:scaleX(0.86);transform-origin:0 50%;left:909px;">45</div>
<div class="t" style="top:839.5px;font-size:12.3px;line-height:14px;color:#000;transform:scaleX(0.86);transform-origin:0 50%;left:939px;">LB42</div>
<div class="t tb" style="top:840.4px;font-size:11px;line-height:14px;color:#000;letter-spacing:-.4px;--c:12.6px;left:984px;"><span class="z">从读写控</span></div>
<div class="t" style="top:839.5px;font-size:12.3px;line-height:14px;color:#000;transform:scaleX(0.86);transform-origin:0 50%;left:1063px;">TEMP</div>
<div class="t" style="top:839.5px;font-size:12.3px;line-height:14px;color:#000;transform:scaleX(0.86);transform-origin:0 50%;left:1122px;">BYTE</div>
<div class="t tb" style="top:840.4px;font-size:11px;line-height:14px;color:#007c04;letter-spacing:-.4px;--c:12.6px;left:1186px;"><span class="z">私有变量</span>-<span class="z">只读</span></div>
<div class="t" style="top:858.5px;font-size:12.3px;line-height:14px;color:#000;transform:scaleX(0.86);transform-origin:0 50%;left:909px;">46</div>
<div class="t" style="top:858.5px;font-size:12.3px;line-height:14px;color:#000;transform:scaleX(0.86);transform-origin:0 50%;left:939px;">LD43</div>
<div class="t tb" style="top:859.4px;font-size:11px;line-height:14px;color:#000;letter-spacing:-.4px;--c:12.6px;left:984px;"><span class="z">从寄存址</span></div>
<div class="t" style="top:858.5px;font-size:12.3px;line-height:14px;color:#000;transform:scaleX(0.86);transform-origin:0 50%;left:1063px;">TEMP</div>
<div class="t" style="top:858.5px;font-size:12.3px;line-height:14px;color:#000;transform:scaleX(0.86);transform-origin:0 50%;left:1122px;">DWORD</div>
<div class="t tb" style="top:859.4px;font-size:11px;line-height:14px;color:#007c04;letter-spacing:-.4px;--c:12.6px;left:1186px;"><span class="z">私有变量</span>-<span class="z">只读</span></div>
<div class="t" style="top:877.5px;font-size:12.3px;line-height:14px;color:#000;transform:scaleX(0.86);transform-origin:0 50%;left:909px;">47</div>
<div class="t" style="top:877.5px;font-size:12.3px;line-height:14px;color:#000;transform:scaleX(0.86);transform-origin:0 50%;left:939px;">LW47</div>
<div class="t tb" style="top:878.4px;font-size:11px;line-height:14px;color:#000;letter-spacing:-.4px;--c:12.6px;left:984px;"><span class="z">从寄存数</span></div>
<div class="t" style="top:877.5px;font-size:12.3px;line-height:14px;color:#000;transform:scaleX(0.86);transform-origin:0 50%;left:1063px;">TEMP</div>
<div class="t" style="top:877.5px;font-size:12.3px;line-height:14px;color:#000;transform:scaleX(0.86);transform-origin:0 50%;left:1122px;">INT</div>
<div class="t tb" style="top:878.4px;font-size:11px;line-height:14px;color:#007c04;letter-spacing:-.4px;--c:12.6px;left:1186px;"><span class="z">私有变量</span>-<span class="z">只读</span></div>
<div class="t" style="top:896.5px;font-size:12.3px;line-height:14px;color:#000;transform:scaleX(0.86);transform-origin:0 50%;left:909px;">48</div>
<div class="t" style="top:896.5px;font-size:12.3px;line-height:14px;color:#000;transform:scaleX(0.86);transform-origin:0 50%;left:939px;">LD49</div>
<div class="t tb" style="top:897.4px;font-size:11px;line-height:14px;color:#000;letter-spacing:-.4px;--c:12.6px;left:984px;"><span class="z">从数据址</span></div>
<div class="t" style="top:896.5px;font-size:12.3px;line-height:14px;color:#000;transform:scaleX(0.86);transform-origin:0 50%;left:1063px;">TEMP</div>
<div class="t" style="top:896.5px;font-size:12.3px;line-height:14px;color:#000;transform:scaleX(0.86);transform-origin:0 50%;left:1122px;">DWORD</div>
<div class="t tb" style="top:897.4px;font-size:11px;line-height:14px;color:#007c04;letter-spacing:-.4px;--c:12.6px;left:1186px;"><span class="z">私有变量</span>-<span class="z">只读</span></div>
<div class="t" style="top:915.5px;font-size:12.3px;line-height:14px;color:#000;transform:scaleX(0.86);transform-origin:0 50%;left:909px;">49</div>
<div class="t" style="top:915.5px;font-size:12.3px;line-height:14px;color:#000;transform:scaleX(0.86);transform-origin:0 50%;left:1063px;">TEMP</div>
<div class="t" style="top:934.5px;font-size:12.3px;line-height:14px;color:#000;transform:scaleX(0.86);transform-origin:0 50%;left:909px;">50</div>
<div class="t" style="top:934.5px;font-size:12.3px;line-height:14px;color:#000;transform:scaleX(0.86);transform-origin:0 50%;left:939px;">LD53</div>
<div class="t tb" style="top:935.4px;font-size:11px;line-height:14px;color:#000;letter-spacing:-.4px;--c:12.6px;left:984px;"><span class="z">函数缓针</span></div>
<div class="t" style="top:934.5px;font-size:12.3px;line-height:14px;color:#000;transform:scaleX(0.86);transform-origin:0 50%;left:1063px;">TEMP</div>
<div class="t" style="top:934.5px;font-size:12.3px;line-height:14px;color:#000;transform:scaleX(0.86);transform-origin:0 50%;left:1122px;">DWORD</div>
<div class="t tb" style="top:935.4px;font-size:11px;line-height:14px;color:#007c04;letter-spacing:-.4px;--c:12.6px;left:1186px;"><span class="z">临时变量</span>-<span class="z">缓存</span></div>
<div class="t" style="top:953.5px;font-size:12.3px;line-height:14px;color:#000;transform:scaleX(0.86);transform-origin:0 50%;left:909px;">51</div>
<div class="t" style="top:953.5px;font-size:12.3px;line-height:14px;color:#000;transform:scaleX(0.86);transform-origin:0 50%;left:939px;">LW57</div>
<div class="t tb" style="top:954.4px;font-size:11px;line-height:14px;color:#000;letter-spacing:-.4px;--c:12.6px;left:984px;"><span class="z">跳站循环</span></div>
<div class="t" style="top:953.5px;font-size:12.3px;line-height:14px;color:#000;transform:scaleX(0.86);transform-origin:0 50%;left:1063px;">TEMP</div>
<div class="t" style="top:953.5px;font-size:12.3px;line-height:14px;color:#000;transform:scaleX(0.86);transform-origin:0 50%;left:1122px;">INT</div>
<div class="t tb" style="top:954.4px;font-size:11px;line-height:14px;color:#007c04;letter-spacing:-.4px;--c:12.6px;left:1186px;"><span class="z">临时变量</span>-<span class="z">缓存</span></div>
<div style="left:980px;top:59px;width:78px;height:18px;border:1px solid #111;"></div>
<div style="left:897px;top:959px;width:575px;height:21px;background:linear-gradient(#5a5a5c 0,#4c4c4e 2px,#474749 21px);"></div>
<div style="left:897px;top:959px;width:3px;height:21px;background:#fbfbfb;"></div>
<div style="left:900px;top:959px;width:1px;height:21px;background:#d4d4d4;"></div>
<div style="left:901px;top:959px;width:571px;height:1px;background:#b8b8b8;"></div>
<div style="left:903px;top:961px;width:70px;height:22px;border:1px solid #bde6f4;border-top:0;border-radius:0;background:linear-gradient(#d9dde5 0,#e4e8ee 5px,#f2f4f7 12px,#fbfcfd 20px);"></div>
<svg class="a" style="left:900px;top:961px" width="76" height="4"><path d="M1 0Q3 0 3.500 3M75 0Q73 0 72.500 3" fill="none" stroke="#bde6f4"/></svg>
<svg class="a" style="left:907px;top:964px" width="16" height="16"><rect x="1.500" y="1.500" width="13" height="12" fill="#f4f8ff" stroke="#4870c8"/><rect x="1.500" y="1.500" width="13" height="3" fill="#4878d8"/><rect x="4" y="7" width="3" height="4" fill="none" stroke="#4060a8"/><path d="M8 9h4" stroke="#4060a8"/></svg>
<div class="t" style="top:963.3px;font-size:13px;line-height:16px;color:#101010;--c:13px;left:925px;"><span class="z">变量表</span></div>
<svg class="a" style="left:978px;top:964px" width="16" height="16"><rect x="1.500" y="1.500" width="13" height="12" fill="#f4f8ff" stroke="#4870c8"/><rect x="1.500" y="1.500" width="13" height="3" fill="#4878d8"/><path d="M3 6L7 9L4 12Z" fill="#e03020"/><path d="M6 13L12 7" stroke="#e8a020" stroke-width="2.500"/></svg>
<div class="t" style="top:963.3px;font-size:13px;line-height:16px;color:#e2e2e2;--c:13px;left:997px;"><span class="z">输出窗口</span></div>
<svg class="a" style="left:1063px;top:964px" width="16" height="16"><rect x="1.500" y="1.500" width="13" height="12" fill="#e8eef8" stroke="#6880b8"/><rect x="1.500" y="1.500" width="13" height="3" fill="#4878d8"/><path d="M1.500 7.500h13M1.500 10.500h13M5.500 4.500v9M9.500 4.500v9" stroke="#8898c0" stroke-width=".8"/></svg>
<div class="t" style="top:963.3px;font-size:13px;line-height:16px;color:#e2e2e2;--c:13px;left:1081px;"><span class="z">状态图表</span></div>
<svg class="a" style="left:1148px;top:964px" width="16" height="16"><rect x="1.500" y="1.500" width="13" height="12" fill="#f4f8ff" stroke="#4870c8"/><rect x="1.500" y="1.500" width="13" height="3" fill="#4878d8"/><path d="M3.500 7.500h4M9 7.500h3.500" stroke="#e05020" stroke-width="1.300"/><path d="M3.500 10.500h9" stroke="#f0a020" stroke-width="1.300"/></svg>
<div class="t" style="top:963.3px;font-size:13px;line-height:16px;color:#e2e2e2;--c:13px;left:1166px;"><span class="z">交叉引用</span></div>
<svg class="a" style="left:1233px;top:964px" width="16" height="16"><rect x="1.500" y="1.500" width="13" height="12" fill="#f4f8ff" stroke="#4870c8"/><rect x="1.500" y="1.500" width="13" height="3" fill="#4878d8"/><rect x="3.500" y="6.500" width="8" height="5" rx="2" fill="#e0e8ff" stroke="#4060a8"/></svg>
<div class="t" style="top:963.3px;font-size:13px;line-height:16px;color:#e2e2e2;--c:13px;left:1251px;"><span class="z">符号表</span></div>
<svg class="a" style="left:1303px;top:964px" width="16" height="16"><path d="M3.500 .500H10L12.500 3V14.500H3.500Z" fill="#f6f6f6" stroke="#909090"/><path d="M5 4h5M5 6.500h6M5 9h6M5 11.500h6" stroke="#707070"/></svg>
<div class="t" style="top:963.3px;font-size:13px;line-height:16px;color:#e2e2e2;--c:13px;left:1322px;"><span class="z">数据块</span></div>
<svg class="a" style="left:0;top:0" width="1472" height="980" fill="#fff" fill-opacity=".38"><g transform="translate(567.2,587.9) rotate(-30.4)" font-family="Liberation Sans, Noto Sans CJK SC, sans-serif" font-weight="bold" font-size="37" letter-spacing="3"><text x="1" y="0">西门子工业</text><text x="226" y="0">技术论坛</text></g><text transform="translate(580,609) rotate(-29.3)" font-family="Liberation Sans, sans-serif" font-weight="bold" font-size="24.4">support.industry.siemens.com/cs</text></svg>
</body></html>
